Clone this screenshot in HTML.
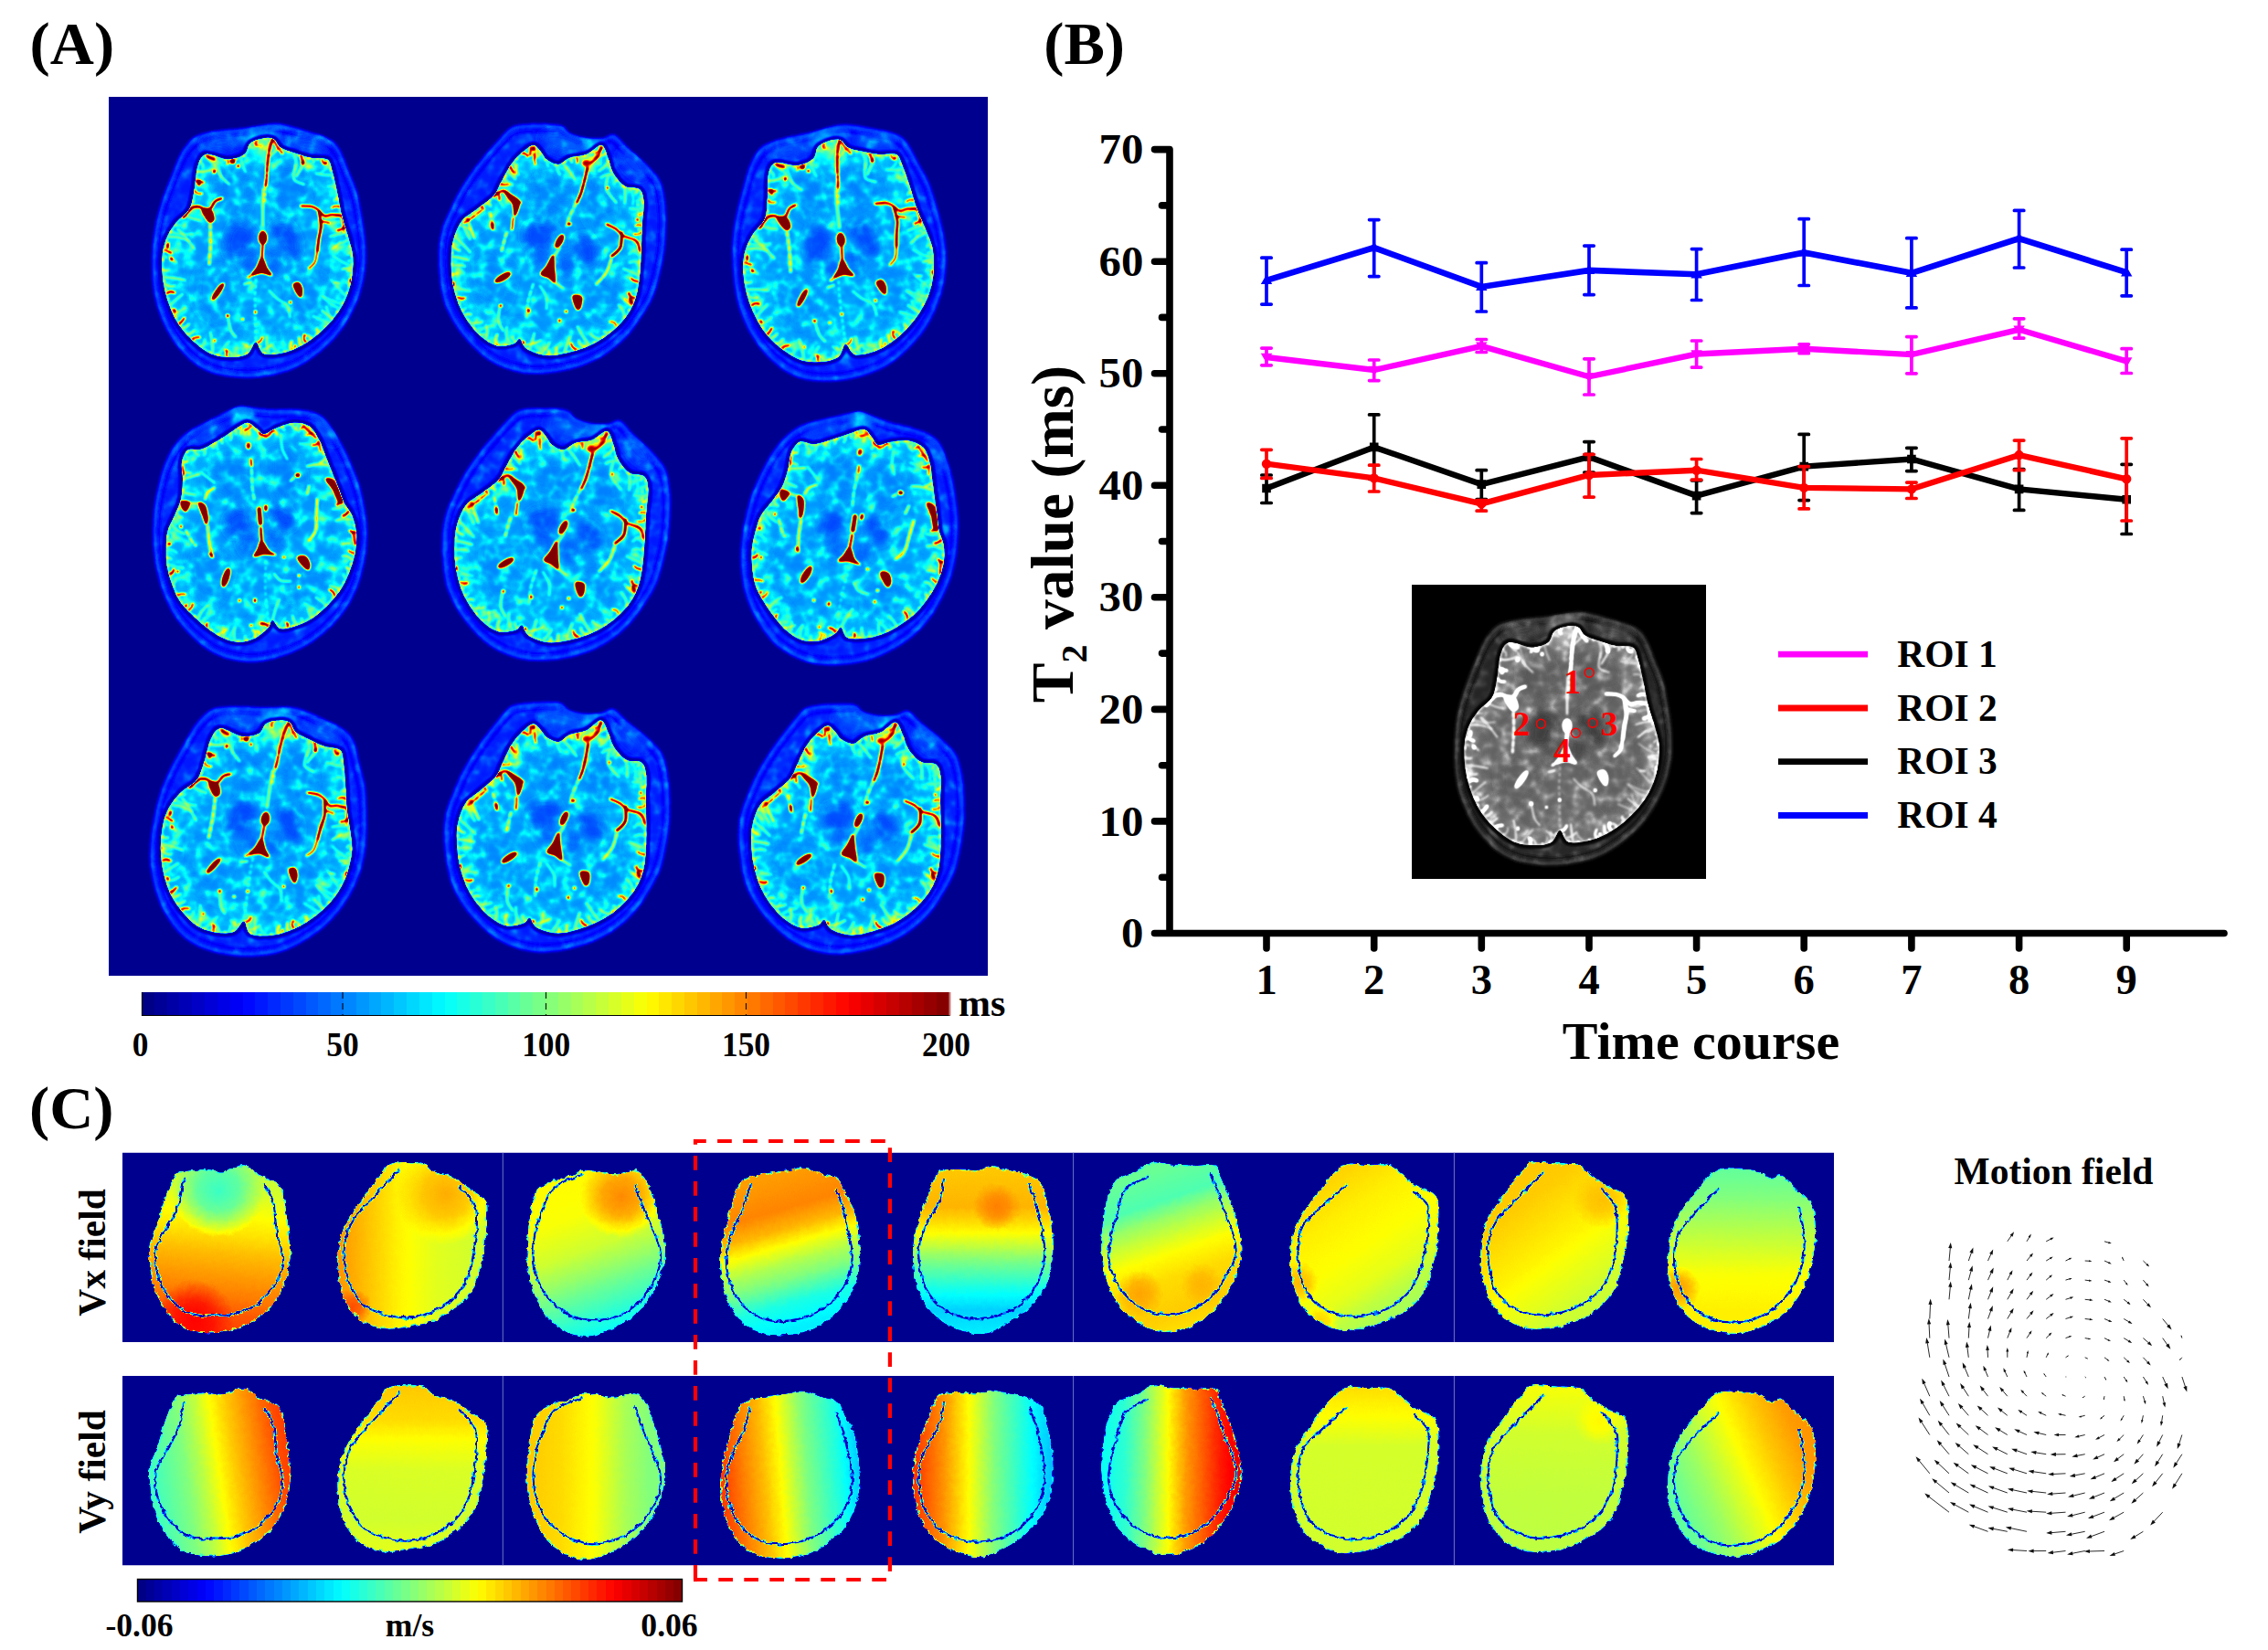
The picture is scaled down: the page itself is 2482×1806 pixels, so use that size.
<!DOCTYPE html>
<html><head><meta charset="utf-8"><title>Figure</title>
<style>
html,body{margin:0;padding:0;background:#fff;}
body{width:2482px;height:1806px;overflow:hidden;}
svg{display:block;font-family:'Liberation Serif', serif;font-weight:bold;}
</style></head><body>

<svg width="2482" height="1806" viewBox="0 0 2482 1806">
<defs><linearGradient id="jetA" x1="0" x2="1" y1="0" y2="0"><stop offset="0%" stop-color="rgb(0,0,143)"/><stop offset="12.5%" stop-color="rgb(0,0,255)"/><stop offset="37.5%" stop-color="rgb(0,255,255)"/><stop offset="62.5%" stop-color="rgb(255,255,0)"/><stop offset="87.5%" stop-color="rgb(255,0,0)"/><stop offset="100%" stop-color="rgb(128,0,0)"/></linearGradient><filter id="fA" filterUnits="userSpaceOnUse" x="119" y="106" width="962" height="961.5" color-interpolation-filters="sRGB"><feTurbulence type="fractalNoise" baseFrequency="0.075 0.075" numOctaves="2" seed="7" result="n"/><feColorMatrix in="n" type="matrix" values="1 0 0 0 0 1 0 0 0 0 1 0 0 0 0 0 0 0 0 1" result="ng"/><feComponentTransfer in="ng" result="N"><feFuncR type="table" tableValues="0 0 0 0.01 0.04 0.10 0.21 0.38 0.60 0.84 1"/><feFuncG type="table" tableValues="0 0 0 0.01 0.04 0.10 0.21 0.38 0.60 0.84 1"/><feFuncB type="table" tableValues="0 0 0 0.01 0.04 0.10 0.21 0.38 0.60 0.84 1"/></feComponentTransfer><feColorMatrix in="SourceGraphic" type="matrix" values="0 0 1 0 0 0 0 1 0 0 0 0 1 0 0 0 0 0 0 1" result="Bm"/><feComposite in="N" in2="Bm" operator="arithmetic" k1="1.0" k2="0" k3="0" k4="0" result="Q"/><feColorMatrix in="SourceGraphic" type="matrix" values="1 1 0 0 0 1 1 0 0 0 1 1 0 0 0 0 0 0 0 1" result="RG"/><feComposite in="RG" in2="Q" operator="arithmetic" k1="0" k2="1" k3="1" k4="0" result="v"/><feComponentTransfer in="v"><feFuncR type="table" tableValues="0 0 0 0 .5 1 1 1 .5"/><feFuncG type="table" tableValues="0 0 .5 1 1 1 .5 0 0"/><feFuncB type="table" tableValues=".56 1 1 1 .5 0 0 0 0"/></feComponentTransfer></filter><filter id="fI" filterUnits="userSpaceOnUse" x="1545.2" y="640" width="321.6" height="321.5" color-interpolation-filters="sRGB"><feTurbulence type="fractalNoise" baseFrequency="0.075 0.075" numOctaves="2" seed="11" result="n"/><feColorMatrix in="n" type="matrix" values="1 0 0 0 0 1 0 0 0 0 1 0 0 0 0 0 0 0 0 1" result="ng"/><feComponentTransfer in="ng" result="N"><feFuncR type="table" tableValues="0 0 0 0.01 0.04 0.10 0.21 0.38 0.60 0.84 1"/><feFuncG type="table" tableValues="0 0 0 0.01 0.04 0.10 0.21 0.38 0.60 0.84 1"/><feFuncB type="table" tableValues="0 0 0 0.01 0.04 0.10 0.21 0.38 0.60 0.84 1"/></feComponentTransfer><feColorMatrix in="SourceGraphic" type="matrix" values="0 0 1 0 0 0 0 1 0 0 0 0 1 0 0 0 0 0 0 1" result="Bm"/><feComposite in="N" in2="Bm" operator="arithmetic" k1="1.0" k2="0" k3="0" k4="0" result="Q"/><feColorMatrix in="SourceGraphic" type="matrix" values="1 1 0 0 0 1 1 0 0 0 1 1 0 0 0 0 0 0 0 1" result="RG"/><feComposite in="RG" in2="Q" operator="arithmetic" k1="0" k2="1" k3="1" k4="0" result="v"/><feComponentTransfer in="v"><feFuncR type="table" tableValues="0 .10 .35 .58 .86 1 1 1 1"/><feFuncG type="table" tableValues="0 .10 .35 .58 .86 1 1 1 1"/><feFuncB type="table" tableValues="0 .10 .35 .58 .86 1 1 1 1"/></feComponentTransfer></filter><filter id="fC" filterUnits="userSpaceOnUse" x="110" y="1240" width="1920" height="500" color-interpolation-filters="sRGB"><feTurbulence type="fractalNoise" baseFrequency="0.16" numOctaves="2" seed="5" result="t"/><feDisplacementMap in="SourceGraphic" in2="t" scale="5" xChannelSelector="R" yChannelSelector="G" result="d"/><feGaussianBlur in="d" stdDeviation="0.55" result="db"/><feComponentTransfer in="db"><feFuncR type="table" tableValues="0 0 0 0 .5 1 1 1 .5"/><feFuncG type="table" tableValues="0 0 .5 1 1 1 .5 0 0"/><feFuncB type="table" tableValues=".56 1 1 1 .5 0 0 0 0"/></feComponentTransfer></filter><filter id="b1" x="-10%" y="-10%" width="120%" height="120%"><feGaussianBlur stdDeviation="0.9"/></filter><filter id="b2" x="-10%" y="-10%" width="120%" height="120%"><feGaussianBlur stdDeviation="1.8"/></filter><filter id="b3" x="-20%" y="-20%" width="140%" height="140%"><feGaussianBlur stdDeviation="4"/></filter><filter id="b6" x="-30%" y="-30%" width="160%" height="160%"><feGaussianBlur stdDeviation="7"/></filter><path id="brainO" d="M15.1 -139.1C7.2 -138.6 -5.2 -135.9 -15.8 -134.5C-26.4 -133.2 -39.5 -132.6 -48.5 -130.9C-57.6 -129.2 -64.3 -128.5 -70.4 -124.5C-76.4 -120.6 -80.7 -114.4 -84.9 -107.3C-89.2 -100.2 -92.2 -90.9 -95.8 -81.8C-99.5 -72.7 -103.7 -62.4 -106.7 -52.7C-109.8 -43 -112.3 -33.9 -114 -23.6C-115.7 -13.3 -116.4 -1.2 -116.7 9.1C-117 19.4 -116.9 29.1 -115.8 38.2C-114.8 47.3 -112.8 55.8 -110.4 63.6C-107.9 71.5 -104.9 78.5 -101.3 85.5C-97.6 92.4 -93.7 99.1 -88.5 105.5C-83.4 111.8 -77 118.8 -70.4 123.6C-63.7 128.5 -57.6 132 -48.5 134.5C-39.5 137.1 -26.1 138.8 -15.8 139.1C-5.5 139.4 4.2 138 13.3 136.4C22.4 134.7 30.5 132.7 38.7 129.1C46.9 125.5 54.8 120.3 62.4 114.5C69.9 108.8 77.8 101.8 84.2 94.5C90.5 87.3 96 79.1 100.5 70.9C105.1 62.7 108.7 54.2 111.5 45.5C114.2 36.7 116 27.3 116.9 18.2C117.8 9.1 117.5 0 116.9 -9.1C116.3 -18.2 114.8 -27.3 113.3 -36.4C111.8 -45.5 110.2 -55.2 107.8 -63.6C105.4 -72.1 102.1 -79.1 98.7 -87.3C95.4 -95.5 91.8 -106.7 87.8 -112.7C83.9 -118.8 80.8 -120.6 75.1 -123.6C69.3 -126.7 60.5 -128.6 53.3 -130.9C46 -133.2 37.8 -135.9 31.5 -137.3C25.1 -138.6 23 -139.5 15.1 -139.1Z"/><path id="brainI" d="M7.8 -123.6C3.6 -123 -4.6 -121.2 -8.5 -118.2C-12.5 -115.2 -11.6 -108.5 -15.8 -105.5C-20.1 -102.4 -27 -100 -34 -100C-41 -100 -52.2 -106.7 -57.6 -105.5C-63.1 -104.2 -64.6 -99.1 -66.7 -92.7C-68.8 -86.4 -68.8 -75.2 -70.4 -67.3C-71.9 -59.4 -72.5 -51.5 -75.8 -45.5C-79.2 -39.4 -86.1 -36.4 -90.4 -30.9C-94.6 -25.5 -98.7 -19.4 -101.3 -12.7C-103.8 -6.1 -105.4 0.9 -105.8 9.1C-106.3 17.3 -105.4 27.9 -104 36.4C-102.6 44.8 -100.5 52.4 -97.6 60C-94.8 67.6 -91.3 75.2 -86.7 81.8C-82.2 88.5 -76.1 94.8 -70.4 100C-64.6 105.2 -58.8 110 -52.2 112.7C-45.5 115.5 -37 116.4 -30.4 116.4C-23.7 116.4 -16.7 115.5 -12.2 112.7C-7.6 110 -6.1 100 -3.1 100C-0.1 100 0.5 110.9 6 112.7C11.5 114.5 21.8 113 29.6 110.9C37.5 108.8 45.7 104.8 53.3 100C60.8 95.2 68.7 88.5 75.1 81.8C81.5 75.2 87.2 67.6 91.5 60C95.7 52.4 98.6 44.8 100.5 36.4C102.5 27.9 103.6 17.3 103.3 9.1C103 0.9 100.7 -5.2 98.7 -12.7C96.8 -20.3 93.6 -27.9 91.5 -36.4C89.3 -44.8 87.8 -55.2 86 -63.6C84.2 -72.1 82.4 -81.2 80.5 -87.3C78.7 -93.3 79 -97.6 75.1 -100C71.2 -102.4 63 -100.6 56.9 -101.8C50.8 -103 44.2 -105.5 38.7 -107.3C33.3 -109.1 27.8 -110.3 24.2 -112.7C20.5 -115.2 19.6 -120 16.9 -121.8C14.2 -123.6 12.1 -124.2 7.8 -123.6Z"/><clipPath id="braincI"><use href="#brainI"/></clipPath><clipPath id="braincO"><use href="#brainO"/></clipPath><g id="brain"><g filter="url(#b2)"><use href="#brainO" fill="#280029"/><use href="#brainO" fill="none" stroke="#1b000f" stroke-width="4" transform="scale(0.94)"/><use href="#brainO" fill="none" stroke="#37001a" stroke-width="2.2" transform="scale(0.985)"/></g><g filter="url(#b3)" clip-path="url(#braincO)"><ellipse cx="2.4" cy="-123.6" rx="20" ry="10" transform="rotate(0 2.4 -123.6)" fill="#45004c"/><ellipse cx="-41.3" cy="-118.2" rx="21.8" ry="8.2" transform="rotate(-8 -41.3 -118.2)" fill="#300033"/><ellipse cx="53.3" cy="-116.4" rx="21.8" ry="8.2" transform="rotate(10 53.3 -116.4)" fill="#300033"/></g><use href="#brainI" fill="none" stroke="#060005" stroke-width="7" filter="url(#b1)"/><g filter="url(#b1)"><use href="#brainI" fill="#44004c"/></g><g clip-path="url(#braincI)"><use href="#brainI" fill="none" stroke="#4b0061" stroke-width="34" filter="url(#b3)"/><g filter="url(#b3)"><path d="M-26.7 -30.9C-22.8 -32.4 -14.3 -30 -10.4 -27.3C-6.4 -24.5 -2.8 -18.2 -3.1 -14.5C-3.4 -10.9 -9.2 -8.8 -12.2 -5.5C-15.2 -2.1 -18.2 3 -21.3 5.5C-24.3 7.9 -27.8 10.6 -30.4 9.1C-32.9 7.6 -36.1 0.9 -36.7 -3.6C-37.3 -8.2 -35.7 -13.6 -34 -18.2C-32.3 -22.7 -30.7 -29.4 -26.7 -30.9Z" fill="#320014" /><path d="M16.9 -29.1C19.6 -30.9 27.4 -32.7 31.5 -30.9C35.5 -29.1 39.2 -22.7 41.5 -18.2C43.7 -13.6 45.4 -8.2 45.1 -3.6C44.8 0.9 42.2 8.2 39.6 9.1C37.1 10 32.8 5.2 29.6 1.8C26.5 -1.5 23 -7.3 20.5 -10.9C18.1 -14.5 15.7 -17 15.1 -20C14.5 -23 14.2 -27.3 16.9 -29.1Z" fill="#320014" /><path d="M-17.6 1.8C-15.2 -0.9 -6.1 -2.1 -3.1 0C-0.1 2.1 1.5 10.3 0.5 14.5C-0.4 18.8 -5.5 25.2 -8.5 25.5C-11.6 25.8 -16.1 20.3 -17.6 16.4C-19.2 12.4 -20.1 4.5 -17.6 1.8Z" fill="#39001f" /><path d="M9.6 0C12.2 -2.1 21.5 -0.9 24.2 1.8C26.9 4.5 27.2 12.4 26 16.4C24.8 20.3 19.8 25.8 16.9 25.5C14 25.2 9.9 18.8 8.7 14.5C7.5 10.3 7.1 2.1 9.6 0Z" fill="#39001f" /><path d="M-41.3 -85.5C-37 -89.1 -24.9 -92.1 -19.5 -89.1C-14 -86.1 -9.2 -75.2 -8.5 -67.3C-7.9 -59.4 -11.6 -45.5 -15.8 -41.8C-20.1 -38.2 -29.2 -41.2 -34 -45.5C-38.8 -49.7 -43.7 -60.6 -44.9 -67.3C-46.1 -73.9 -45.5 -81.8 -41.3 -85.5Z" fill="#400038" /><path d="M18.7 -92.7C22.7 -96.7 34.8 -96.4 40.5 -92.7C46.3 -89.1 52.4 -78.8 53.3 -70.9C54.2 -63 50.5 -49.7 46 -45.5C41.5 -41.2 30.8 -41.5 26 -45.5C21.2 -49.4 18.1 -61.2 16.9 -69.1C15.7 -77 14.8 -88.8 18.7 -92.7Z" fill="#400038" /><path d="M-66.7 27.3C-62.8 20 -47.9 18.2 -41.3 20C-34.6 21.8 -26.7 29.4 -26.7 38.2C-26.7 47 -34.9 68.5 -41.3 72.7C-47.6 77 -60.7 71.2 -64.9 63.6C-69.2 56.1 -70.7 34.5 -66.7 27.3Z" fill="#420047" /><path d="M38.7 20C44.2 15.5 61.8 21.5 67.8 27.3C73.9 33 77.5 46.1 75.1 54.5C72.7 63 59.9 78.2 53.3 78.2C46.6 78.2 37.5 64.2 35.1 54.5C32.7 44.8 33.3 24.5 38.7 20Z" fill="#420047" /></g><g filter="url(#b3)"><ellipse cx="2.4" cy="-112.7" rx="12.7" ry="10.9" transform="rotate(0 2.4 -112.7)" fill="#6b0099"/></g><use href="#brainI" fill="none" stroke="#cc1a00" stroke-width="3.2" stroke-dasharray="2.5 6 4 8 2 10" filter="url(#b1)"/><use href="#brainI" fill="none" stroke="#7d004c" stroke-width="2.4" filter="url(#b1)"/><g filter="url(#b1)"><path d="M-47 -102.1Q-43.8 -91.5 -40.8 -80M87.9 63.1Q77.6 58.5 69.2 49.7M91.8 -31.8Q86.6 -31.9 81 -30M76.2 -95Q73 -87.5 66.9 -84.6" stroke="#78001a" stroke-width="1.7" fill="none" stroke-linecap="round"/><path d="M76 79Q68.4 75.3 59.6 71.6" stroke="#78001a" stroke-width="2.0" fill="none" stroke-linecap="round"/><path d="M91.1 58.1Q80.2 55.7 70 49.1M29.3 -109.8Q23.8 -109.4 25.2 -105.5" stroke="#80001a" stroke-width="1.4" fill="none" stroke-linecap="round"/><path d="M-90.2 -29.3Q-90.2 -26.5 -86.3 -28.2M-95.6 -20.4Q-86.3 -16.7 -72.7 -18.4M-18.1 112.9Q-15.8 110.1 -17.2 107M80.1 73.6Q75.5 70.2 74.1 61M83.6 -69.6Q79.8 -71.4 75.7 -70.4" stroke="#80001a" stroke-width="1.7" fill="none" stroke-linecap="round"/><path d="M102.1 10.7Q100.6 10.9 98.2 11.2M80.6 -82.9Q72.4 -82.3 62.7 -84.6M38.8 -106.3Q42.7 -96.6 40.1 -88.3" stroke="#80001a" stroke-width="2.0" fill="none" stroke-linecap="round"/><path d="M-20.1 -103.1Q-18.4 -94.8 -14.4 -86M21.2 110.7Q14.5 106.8 15.1 101.5M94.8 48.9Q87.3 40.9 79.3 31.9M101.6 16.2Q91.6 14 81.4 5.3" stroke="#85001a" stroke-width="1.4" fill="none" stroke-linecap="round"/><path d="M8.4 -122.8Q9 -116.4 16.4 -111.3M-62.2 104.5Q-59.1 102.5 -59 97.2M-43.8 113.3Q-38.4 106.7 -32.4 99.3" stroke="#85001a" stroke-width="1.7" fill="none" stroke-linecap="round"/><path d="M-96.9 59.3Q-90.7 53.3 -83.3 47.5M97.9 -12.2Q95 -10 90.9 -8.3" stroke="#8c001a" stroke-width="1.7" fill="none" stroke-linecap="round"/><path d="M-10 -113.7Q-7.5 -113.3 -4.2 -112.2M-80.5 -39.5Q-74.4 -34.7 -63.6 -33.3" stroke="#8c001a" stroke-width="2.0" fill="none" stroke-linecap="round"/><path d="M-104.5 7.6Q-102.9 4.2 -100.5 7.7M-11.8 110.6Q-13 104.4 -17.3 101.1M99.7 35.9Q98.2 37 96.2 34" stroke="#94001a" stroke-width="1.4" fill="none" stroke-linecap="round"/><path d="M4.1 108.4Q9.8 107.8 13.7 102.9M51.9 -102.3Q48.3 -92.1 41.2 -81.9" stroke="#94001a" stroke-width="2.0" fill="none" stroke-linecap="round"/><path d="M-63.6 -95.6Q-60.4 -96.4 -61 -90.2M-92.6 67.8Q-85.7 67 -80 61.8M58.5 -100.7Q62.4 -98.3 59 -96.7" stroke="#99001a" stroke-width="1.4" fill="none" stroke-linecap="round"/><path d="M-103.5 28.9Q-92.7 29.4 -80.7 32.2M100.8 1.8Q99.3 1.5 97.5 4M86.6 -55.8Q84.4 -59 82.7 -54.7" stroke="#99001a" stroke-width="1.7" fill="none" stroke-linecap="round"/><path d="M-73.4 -51.3Q-71.9 -47.1 -67.9 -48.7M-29.4 115.3Q-28.9 111.9 -34.2 108.8M-8.4 105.8Q-11.9 106.3 -13.2 102.1" stroke="#99001a" stroke-width="2.0" fill="none" stroke-linecap="round"/><path d="M-98.7 -15.1Q-86.4 -16.3 -76.2 -10.6M-50.7 112Q-49.6 101.4 -52.9 89.1M95.5 -19.9Q87.1 -18.4 78 -15.6M14.8 -121.3Q11.7 -116.1 6 -110.5" stroke="#a3001a" stroke-width="1.4" fill="none" stroke-linecap="round"/><path d="M-104 21.2Q-101.5 22 -98 21M-103 36.5Q-97.3 40.3 -92.2 38.4M10.6 111.4Q9 103 8.5 93.5M89.6 -40.6Q82.2 -34.5 72.3 -35.6M22.4 -113.4Q16.7 -106.9 8.9 -101.4" stroke="#a3001a" stroke-width="1.7" fill="none" stroke-linecap="round"/><path d="M-57 -104.7Q-55.1 -99 -49.8 -96.4M-66.6 -86.9Q-58.6 -85.5 -48.9 -89.9" stroke="#a3001a" stroke-width="2.0" fill="none" stroke-linecap="round"/><path d="M-76.7 91.5Q-73.4 90 -70.2 86.9" stroke="#b2001a" stroke-width="1.4" fill="none" stroke-linecap="round"/><path d="M-82.8 84.7Q-79 83.8 -76.2 80.3M100.9 22.6Q99.6 20.2 96.9 22.1" stroke="#b2001a" stroke-width="1.7" fill="none" stroke-linecap="round"/><path d="M66 88.1Q62.8 88.8 63.7 84.8" stroke="#b2001a" stroke-width="2.0" fill="none" stroke-linecap="round"/><path d="M57.2 95.6Q56.4 92.3 49.7 92.7" stroke="#d1001a" stroke-width="1.4" fill="none" stroke-linecap="round"/><path d="M44.9 102.9Q45 99.2 44.4 94.9" stroke="#d1001a" stroke-width="1.7" fill="none" stroke-linecap="round"/><path d="M35.3 107.3Q33.6 104.8 36.1 99.4" stroke="#d1001a" stroke-width="2.0" fill="none" stroke-linecap="round"/><path d="M-2.4 -119.2Q-5.2 -116.7 -1.7 -115.2M-34.1 -99Q-31.6 -96.9 -34.5 -95M-69.8 -65.4Q-67.2 -61.5 -62.3 -62.7M-1.5 100.6Q2.4 100.1 4.1 94.8M88 -48.3Q84.1 -50.2 80.1 -47.1M69.4 -99.7Q68.7 -98.4 71 -96" stroke="#ff4c1a" stroke-width="1.4" fill="none" stroke-linecap="round"/><path d="M-68.1 -76.1Q-64.7 -75.3 -60.2 -74.9M-102.7 -1.3Q-99.7 0.7 -95.6 2.4M-72.5 96.4Q-70.1 94.4 -64.7 94.6M-35.2 114.6Q-34.3 112.3 -35.9 108.6M51.7 99.7Q48.4 98 50 91.8" stroke="#ff4c1a" stroke-width="1.7" fill="none" stroke-linecap="round"/><path d="M-100.2 46.6Q-97.6 43.2 -92.3 45.8M-86.7 79.7Q-83.8 77.9 -81.4 73.7M93.7 -25.6Q90.8 -23.2 86.5 -22.2M46.5 -104Q47.1 -100.7 48.3 -96.2" stroke="#ff4c1a" stroke-width="2.0" fill="none" stroke-linecap="round"/></g><g filter="url(#b1)"><path d="M5.1 -67.3C5 -63.6 4.6 -52.1 4.5 -45.5C4.5 -38.8 4.5 -30.3 4.5 -27.3" stroke="#9e001a" stroke-width="2.2" fill="none" stroke-linecap="round" stroke-linejoin="round" /><path d="M-53.1 -29.1C-53 -25.8 -52.6 -16.4 -52.7 -9.1C-52.9 -1.8 -53.8 10.6 -54 14.5" stroke="#bd001a" stroke-width="2.4" fill="none" stroke-linecap="round" stroke-linejoin="round" stroke-dasharray="5 3"/><path d="M-88.5 -23.6C-87.3 -22.4 -84.3 -20 -81.3 -16.4C-78.2 -12.7 -72.2 -4.2 -70.4 -1.8" stroke="#99001a" stroke-width="1.6" fill="none" stroke-linecap="round" stroke-linejoin="round" /><path d="M-97.6 5.5C-96.4 6.7 -91.6 11.5 -90.4 12.7" stroke="#a6001a" stroke-width="1.6" fill="none" stroke-linecap="round" stroke-linejoin="round" /><path d="M-48.5 -94.5C-47.3 -92.4 -44 -85.5 -41.3 -81.8C-38.5 -78.2 -33.7 -74.2 -32.2 -72.7" stroke="#99001a" stroke-width="1.6" fill="none" stroke-linecap="round" stroke-linejoin="round" /><path d="M40.5 -94.5C40.2 -91.8 37.2 -81.8 38.7 -78.2C40.2 -74.5 47.8 -73.6 49.6 -72.7" stroke="#99001a" stroke-width="1.6" fill="none" stroke-linecap="round" stroke-linejoin="round" /><path d="M80.5 -1.8C82.1 -3 88.1 -7.9 89.6 -9.1" stroke="#a6001a" stroke-width="1.8" fill="none" stroke-linecap="round" stroke-linejoin="round" /><path d="M91.5 20C93.3 19.7 100.5 18.5 102.4 18.2" stroke="#a6001a" stroke-width="1.6" fill="none" stroke-linecap="round" stroke-linejoin="round" /><path d="M69.6 65.5C71.5 67 78.7 73 80.5 74.5" stroke="#99001a" stroke-width="1.6" fill="none" stroke-linecap="round" stroke-linejoin="round" /><path d="M-34 70.9C-33.4 73.6 -31.9 83.3 -30.4 87.3C-28.8 91.2 -25.8 93.3 -24.9 94.5" stroke="#99001a" stroke-width="1.6" fill="none" stroke-linecap="round" stroke-linejoin="round" /><path d="M-3.1 30.9C-3.2 34.8 -4 43 -4 54.5C-4 66.1 -3.2 92.4 -3.1 100" stroke="#80001a" stroke-width="1.5" fill="none" stroke-linecap="round" stroke-linejoin="round" stroke-dasharray="3 4"/><path d="M11.5 43.6C13 45.2 17.2 50 20.5 52.7C23.9 55.5 29.2 56.7 31.5 60C33.7 63.3 33.7 70.6 34.2 72.7" stroke="#8c001a" stroke-width="1.5" fill="none" stroke-linecap="round" stroke-linejoin="round" /><path d="M-15.8 36.4C-14.6 36.1 -9.8 34.8 -8.5 34.5" stroke="#b2001a" stroke-width="1.5" fill="none" stroke-linecap="round" stroke-linejoin="round" /><path d="M82.4 34.5C83.3 34.7 86.9 35.3 87.8 35.5" stroke="#b2001a" stroke-width="1.5" fill="none" stroke-linecap="round" stroke-linejoin="round" /><path d="M7.1 -69.1C7 -66.4 6.5 -55.5 6.4 -52.7" stroke="#cc001a" stroke-width="1.6" fill="none" stroke-linecap="round" stroke-linejoin="round" stroke-dasharray="3 3"/></g><g filter="url(#b1)"><path d="M15.5 -122.2C14.8 -120.3 12.8 -115.5 11.8 -110.9C10.8 -106.3 10.2 -100 9.6 -94.5C9.1 -89.1 8.9 -82.2 8.5 -78.2C8.2 -74.2 7.6 -71.8 7.5 -70.5" stroke="#ff5900" stroke-width="2.2" fill="none" stroke-linecap="round" stroke-linejoin="round" stroke-dasharray="8 1.6 5 2.4 3 2"/><path d="M16.9 -120C17.7 -118.6 19.9 -114 21.5 -111.8C23 -109.6 25.2 -107.7 26 -106.9" stroke="#ff5900" stroke-width="1.5" fill="none" stroke-linecap="round" stroke-linejoin="round" /><ellipse cx="4.5" cy="-14.2" rx="4.4" ry="7.3" transform="rotate(0 4.5 -14.2)" fill="#ff5900"/><path d="M4.5 -7.3C4.4 -4.5 3.6 6.4 3.5 9.1" stroke="#ff5900" stroke-width="2" fill="none" stroke-linecap="round" stroke-linejoin="round" /><path d="M3.5 7.3C5.3 7.3 7.1 14.9 8.9 18.2C10.7 21.5 15.3 25.8 14.4 26.9C13.4 28 7 24.5 3.3 24.5C-0.5 24.5 -7.2 28 -8.2 26.9C-9.1 25.8 -4.3 21.5 -2.4 18.2C-0.4 14.9 1.6 7.3 3.5 7.3Z" fill="#ff5900" /><path d="M-8.2 26.9C-8.7 27.3 -10.9 28.7 -11.5 29.1" stroke="#ff5900" stroke-width="1.3" fill="none" stroke-linecap="round" stroke-linejoin="round" /><path d="M-82.2 -36.7C-80.7 -38.4 -76 -45 -73.1 -46.9C-70.2 -48.8 -67.5 -48.6 -64.9 -48.2C-62.3 -47.8 -59.8 -44.6 -57.6 -44.4C-55.5 -44.2 -53.8 -45.3 -52.2 -46.9C-50.5 -48.5 -49.6 -52.5 -47.6 -54.2C-45.7 -55.9 -41.6 -56.8 -40.4 -57.3" stroke="#ff5900" stroke-width="2.2" fill="none" stroke-linecap="round" stroke-linejoin="round" /><path d="M-62.4 -46.5C-61.2 -47.7 -54.5 -47.1 -52.2 -45.1C-49.9 -43.1 -48.3 -36.9 -48.5 -34.5C-48.8 -32.2 -51.8 -30.3 -53.6 -30.9C-55.5 -31.5 -58 -35.6 -59.5 -38.2C-60.9 -40.8 -63.6 -45.4 -62.4 -46.5Z" fill="#ff5900" /><path d="M46.4 -49.1C48.1 -49 53.9 -49.3 56.9 -48.7C59.9 -48.1 61.7 -47.2 64.2 -45.5C66.7 -43.7 69.1 -39.2 71.8 -38.2C74.5 -37.2 77.4 -39.6 80.5 -39.6C83.7 -39.6 88.9 -38.4 90.5 -38.2" stroke="#ff5900" stroke-width="2" fill="none" stroke-linecap="round" stroke-linejoin="round" /><path d="M66 -43.3C66.4 -40.6 68.2 -32.1 68.2 -27.3C68.2 -22.5 66.7 -19.1 66 -14.5C65.3 -10 64.5 -2.4 64.2 0" stroke="#ff5900" stroke-width="2.5" fill="none" stroke-linecap="round" stroke-linejoin="round" /><path d="M64.2 0C63.7 2.1 63 9.5 61.5 12.7C59.9 15.9 56.2 18 55.1 19.1" stroke="#ff5900" stroke-width="1.5" fill="none" stroke-linecap="round" stroke-linejoin="round" /><path d="M68.2 -32.4C69.7 -32.1 75.8 -30.8 77.3 -30.5" stroke="#ff5900" stroke-width="1.6" fill="none" stroke-linecap="round" stroke-linejoin="round" /><path d="M91.8 -36.4C92.1 -33.6 93 -22.7 93.3 -20" stroke="#ff5900" stroke-width="1.1" fill="none" stroke-linecap="round" stroke-linejoin="round" /><ellipse cx="-44.5" cy="44.5" rx="10.9" ry="2.7" transform="rotate(-55 -44.5 44.5)" fill="#ff5900"/><path d="M37.6 37.1C37.9 34.9 42.5 34.1 44.2 34.9C45.9 35.7 47.4 39.2 47.8 41.8C48.2 44.4 47.6 49.5 46.7 50.5C45.8 51.5 43.9 50.1 42.4 47.8C40.8 45.6 37.3 39.2 37.6 37.1Z" fill="#ff5900" /><path d="M-56.2 -103.3C-54.9 -102.7 -49.8 -100.5 -48.5 -100" stroke="#ff5900" stroke-width="2.2" fill="none" stroke-linecap="round" stroke-linejoin="round" /><ellipse cx="-28.5" cy="-97.8" rx="2.7" ry="2.4" transform="rotate(0 -28.5 -97.8)" fill="#ff5900"/><ellipse cx="-48.5" cy="-86.9" rx="1.5" ry="2.2" transform="rotate(20 -48.5 -86.9)" fill="#ff5900"/><ellipse cx="-65.3" cy="-74.5" rx="1.5" ry="3.3" transform="rotate(0 -65.3 -74.5)" fill="#ff5900"/><ellipse cx="-22.4" cy="-92.7" rx="1.3" ry="1.8" transform="rotate(0 -22.4 -92.7)" fill="#ff5900"/><ellipse cx="72.9" cy="-96" rx="2" ry="1.5" transform="rotate(0 72.9 -96)" fill="#ff5900"/><ellipse cx="48.2" cy="-96" rx="1.5" ry="1.3" transform="rotate(0 48.2 -96)" fill="#ff5900"/><ellipse cx="-99.5" cy="-5.5" rx="1.3" ry="3.6" transform="rotate(8 -99.5 -5.5)" fill="#ff5900"/><ellipse cx="-95.5" cy="9.1" rx="1.3" ry="2" transform="rotate(-30 -95.5 9.1)" fill="#ff5900"/><ellipse cx="-34" cy="70.9" rx="1.5" ry="1.5" transform="rotate(0 -34 70.9)" fill="#ff5900"/><ellipse cx="-3.5" cy="66.9" rx="1.1" ry="1.5" transform="rotate(0 -3.5 66.9)" fill="#ff5900"/><ellipse cx="-17.6" cy="74.9" rx="1.1" ry="1.1" transform="rotate(0 -17.6 74.9)" fill="#ff5900"/><ellipse cx="34.7" cy="56.4" rx="1.3" ry="1.3" transform="rotate(0 34.7 56.4)" fill="#ff5900"/><ellipse cx="-48.2" cy="98.2" rx="0.9" ry="1.8" transform="rotate(0 -48.2 98.2)" fill="#ff5900"/><ellipse cx="-92.2" cy="65.5" rx="1.3" ry="2.2" transform="rotate(-20 -92.2 65.5)" fill="#ff5900"/><ellipse cx="100.5" cy="32.7" rx="1.1" ry="2.9" transform="rotate(0 100.5 32.7)" fill="#ff5900"/><ellipse cx="39.8" cy="104.4" rx="1.3" ry="1.1" transform="rotate(0 39.8 104.4)" fill="#ff5900"/></g></g></g><path id="brainBO" d="M-35.5 -135.9C-30 -136.7 -21.2 -137 -13.6 -136.8C-6.1 -136.7 4.5 -136.7 10 -135C15.5 -133.3 14.5 -129.1 19.1 -126.8C23.6 -124.5 31.2 -122.3 37.3 -121.4C43.3 -120.5 50.3 -120.8 55.5 -121.4C60.6 -122 63.6 -126.8 68.2 -125C72.7 -123.2 77.9 -115 82.7 -110.5C87.6 -105.9 92.7 -102 97.3 -97.7C101.8 -93.5 106.4 -89.2 110 -85C113.6 -80.8 116.8 -78 119.1 -72.3C121.4 -66.5 122.7 -58.3 123.6 -50.5C124.5 -42.6 124.7 -33.8 124.5 -25C124.4 -16.2 123.9 -6.8 122.7 2.3C121.5 11.4 119.4 21.1 117.3 29.5C115.2 38 113.3 45.6 110 53.2C106.7 60.8 102.1 67.7 97.3 75C92.4 82.3 87.3 90.2 80.9 96.8C74.5 103.5 67 109.8 59.1 115C51.2 120.2 42.7 124.4 33.6 127.7C24.5 131.1 14.2 133.5 4.5 135C-5.2 136.5 -15.5 137.4 -24.5 136.8C-33.6 136.2 -42.1 134.1 -50 131.4C-57.9 128.6 -64.8 125.3 -71.8 120.5C-78.8 115.6 -85.8 108.9 -91.8 102.3C-97.9 95.6 -103.6 88 -108.2 80.5C-112.7 72.9 -116.5 65.3 -119.1 56.8C-121.7 48.3 -122.7 38.6 -123.6 29.5C-124.5 20.5 -125 10.8 -124.5 2.3C-124.1 -6.2 -123 -13.8 -120.9 -21.4C-118.8 -28.9 -115.2 -35.9 -111.8 -43.2C-108.5 -50.5 -105.2 -57.7 -100.9 -65C-96.7 -72.3 -91.2 -80.2 -86.4 -86.8C-81.5 -93.5 -76.7 -99.2 -71.8 -105C-67 -110.8 -61.5 -116.8 -57.3 -121.4C-53 -125.9 -50 -129.8 -46.4 -132.3C-42.7 -134.7 -40.9 -135.2 -35.5 -135.9Z"/><path id="brainBI" d="M-20.9 -113.2C-17 -113.5 -14.2 -107.6 -11.8 -105C-9.4 -102.4 -9.4 -99.8 -6.4 -97.7C-3.3 -95.6 2.1 -92 6.4 -92.3C10.6 -92.6 13.9 -97.7 19.1 -99.5C24.2 -101.4 31.5 -100.9 37.3 -103.2C43 -105.5 49.7 -113.8 53.6 -113.2C57.6 -112.6 58.8 -104.5 60.9 -99.5C63 -94.5 63.3 -88.3 66.4 -83.2C69.4 -78 74.2 -71.7 79.1 -68.6C83.9 -65.6 92 -68 95.5 -65C98.9 -62 99.5 -57.1 100 -50.5C100.5 -43.8 98.6 -33.8 98.2 -25C97.7 -16.2 97.7 -6.8 97.3 2.3C96.8 11.4 96.4 21.4 95.5 29.5C94.5 37.7 93.9 44.4 91.8 51.4C89.7 58.3 87 65 82.7 71.4C78.5 77.7 72.7 84.1 66.4 89.5C60 95 52.4 100.2 44.5 104.1C36.7 108 27.6 111.1 19.1 113.2C10.6 115.3 1.5 117.4 -6.4 116.8C-14.2 116.2 -23.3 112.6 -28.2 109.5C-33 106.5 -33 99.5 -35.5 98.6C-37.9 97.7 -38.5 102.9 -42.7 104.1C-47 105.3 -55.2 107.1 -60.9 105.9C-66.7 104.7 -72.1 101.1 -77.3 96.8C-82.4 92.6 -87.6 86.5 -91.8 80.5C-96.1 74.4 -99.8 67.7 -102.7 60.5C-105.6 53.2 -107.7 45 -109.1 36.8C-110.5 28.6 -111.1 19.2 -110.9 11.4C-110.8 3.5 -110.2 -3.5 -108.2 -10.5C-106.2 -17.4 -103.3 -25 -99.1 -30.5C-94.8 -35.9 -88.5 -38.6 -82.7 -43.2C-77 -47.7 -68.8 -53.2 -64.5 -57.7C-60.3 -62.3 -60.3 -65 -57.3 -70.5C-54.2 -75.9 -50 -85 -46.4 -90.5C-42.7 -95.9 -39.7 -99.4 -35.5 -103.2C-31.2 -107 -24.8 -112.9 -20.9 -113.2Z"/><clipPath id="brainBcI"><use href="#brainBI"/></clipPath><clipPath id="brainBcO"><use href="#brainBO"/></clipPath><g id="brainB"><g filter="url(#b2)"><use href="#brainBO" fill="#280029"/><use href="#brainBO" fill="none" stroke="#1b000f" stroke-width="4" transform="scale(0.94)"/><use href="#brainBO" fill="none" stroke="#37001a" stroke-width="2.2" transform="scale(0.985)"/></g><g filter="url(#b3)" clip-path="url(#brainBcO)"><ellipse cx="11.8" cy="-115.9" rx="25.5" ry="10.9" transform="rotate(15 11.8 -115.9)" fill="#330033"/><ellipse cx="44.5" cy="-111.4" rx="10.9" ry="7.3" transform="rotate(0 44.5 -111.4)" fill="#4c004c"/><ellipse cx="88.2" cy="-92.3" rx="20" ry="9.1" transform="rotate(45 88.2 -92.3)" fill="#2f0033"/></g><use href="#brainBI" fill="none" stroke="#060005" stroke-width="7" filter="url(#b1)"/><g filter="url(#b1)"><use href="#brainBI" fill="#44004c"/></g><g clip-path="url(#brainBcI)"><use href="#brainBI" fill="none" stroke="#4b0061" stroke-width="34" filter="url(#b3)"/><g filter="url(#b3)"><path d="M-28.2 -25C-24.2 -28.6 -11.8 -29.2 -6.4 -28.6C-0.9 -28 3.6 -25 4.5 -21.4C5.5 -17.7 2.7 -10.5 -0.9 -6.8C-4.5 -3.2 -12.4 0.5 -17.3 0.5C-22.1 0.5 -28.2 -2.6 -30 -6.8C-31.8 -11.1 -32.1 -21.4 -28.2 -25Z" fill="#320014" /><path d="M24.5 -12.3C26.7 -15.3 35.2 -15.9 39.1 -14.1C43 -12.3 46.7 -5.9 48.2 -1.4C49.7 3.2 50.3 10.2 48.2 13.2C46.1 16.2 39.1 18.3 35.5 16.8C31.8 15.3 28.2 8.9 26.4 4.1C24.5 -0.8 22.4 -9.2 24.5 -12.3Z" fill="#320014" /><path d="M-20.9 2.3C-18.5 -0.5 -9.4 -2.9 -6.4 -1.4C-3.3 0.2 -1.8 7.4 -2.7 11.4C-3.6 15.3 -8.8 21.7 -11.8 22.3C-14.8 22.9 -19.4 18.3 -20.9 15C-22.4 11.7 -23.3 5 -20.9 2.3Z" fill="#39001f" /><path d="M10 4.1C13 3.2 22.4 7.7 24.5 11.4C26.7 15 24.8 22.9 22.7 25.9C20.6 28.9 14.5 31.1 11.8 29.5C9.1 28 6.7 21.1 6.4 16.8C6.1 12.6 7 5 10 4.1Z" fill="#39001f" /><path d="M-17.3 -75.9C-13 -78.9 -0.9 -82 4.5 -79.5C10 -77.1 15.5 -68 15.5 -61.4C15.5 -54.7 9.4 -42.6 4.5 -39.5C-0.3 -36.5 -9.4 -39.5 -13.6 -43.2C-17.9 -46.8 -20.3 -55.9 -20.9 -61.4C-21.5 -66.8 -21.5 -72.9 -17.3 -75.9Z" fill="#400038" /><path d="M37.3 -68.6C40.9 -72 50.9 -73.5 55.5 -70.5C60 -67.4 63.9 -57.4 64.5 -50.5C65.2 -43.5 63 -32.3 59.1 -28.6C55.2 -25 45.2 -25 40.9 -28.6C36.7 -32.3 34.2 -43.8 33.6 -50.5C33 -57.1 33.6 -65.3 37.3 -68.6Z" fill="#400038" /><path d="M-84.5 11.4C-80.9 3.2 -64.2 5.3 -57.3 7.7C-50.3 10.2 -43.3 16.8 -42.7 25.9C-42.1 35 -47.6 57.1 -53.6 62.3C-59.7 67.4 -73.9 65.3 -79.1 56.8C-84.2 48.3 -88.2 19.5 -84.5 11.4Z" fill="#420047" /><path d="M30 29.5C33.6 24.1 51.8 30.2 59.1 33.2C66.4 36.2 73.6 40.5 73.6 47.7C73.6 55 65.2 73.8 59.1 76.8C53 79.8 42.1 73.8 37.3 65.9C32.4 58 26.4 35 30 29.5Z" fill="#420047" /></g><g filter="url(#b3)"><ellipse cx="39.1" cy="-97.7" rx="10.9" ry="9.1" transform="rotate(0 39.1 -97.7)" fill="#730099"/></g><use href="#brainBI" fill="none" stroke="#cc1a00" stroke-width="3.2" stroke-dasharray="2.5 6 4 8 2 10" filter="url(#b1)"/><use href="#brainBI" fill="none" stroke="#7d004c" stroke-width="2.4" filter="url(#b1)"/><g filter="url(#b1)"><path d="M85.2 -66.3Q90.1 -57.1 87.9 -48.5" stroke="#78001a" stroke-width="1.4" fill="none" stroke-linecap="round"/><path d="M91.6 46.8Q89.6 44.1 85.7 47.6" stroke="#78001a" stroke-width="1.7" fill="none" stroke-linecap="round"/><path d="M-4.9 -96.1Q-6.5 -94.4 -4.6 -90.1M96.6 -8.2Q93.1 -4.9 88.7 -6.9M96.5 -0.3Q90.7 -0.2 83.8 5.6M-51.6 104Q-48.6 101.3 -50.3 98.2M-81.5 90.6Q-75.2 85.7 -64.8 83.9M-102 59.8Q-101.4 56.6 -98.9 57.3" stroke="#78001a" stroke-width="2.0" fill="none" stroke-linecap="round"/><path d="M96 7.8Q92 2.6 86.9 1.7" stroke="#80001a" stroke-width="1.4" fill="none" stroke-linecap="round"/><path d="M98.6 -44.4Q91.9 -42.6 84.6 -44.2M-65 -56.1Q-57.7 -55.1 -54.4 -47" stroke="#80001a" stroke-width="1.7" fill="none" stroke-linecap="round"/><path d="M5.2 -91.9Q4.6 -86.6 8.1 -81.3M85.9 62.1Q80.5 59.3 76.1 52.1M-105.7 45.7Q-101.2 44 -94.7 45.6" stroke="#80001a" stroke-width="2.0" fill="none" stroke-linecap="round"/><path d="M-21.3 -112.3Q-22.2 -106.6 -25.9 -102.3M-107.4 40.1Q-99.1 44.4 -90.4 46.2" stroke="#85001a" stroke-width="1.4" fill="none" stroke-linecap="round"/><path d="M97.7 -54.5Q95.5 -53.1 92.1 -52.3M95.4 15.8Q90.6 12.5 84.4 15.1" stroke="#85001a" stroke-width="1.7" fill="none" stroke-linecap="round"/><path d="M32.9 -101.3Q33.1 -98.8 34.2 -95.4M94.5 29.1Q86.8 25.3 78 22M-46 103.4Q-51.8 95.5 -50 85.9M-77.4 95.3Q-77.6 93 -73.6 93.9" stroke="#85001a" stroke-width="2.0" fill="none" stroke-linecap="round"/><path d="M66.5 -81.7Q58.8 -81.6 52.9 -78" stroke="#8c001a" stroke-width="1.7" fill="none" stroke-linecap="round"/><path d="M79.2 73.9Q77.6 66.5 72.6 61.5" stroke="#8c001a" stroke-width="2.0" fill="none" stroke-linecap="round"/><path d="M71.1 -76.3Q69.2 -74.7 67.6 -71.5M-98.2 66.7Q-96.2 67.2 -94.6 64.9M-100.1 -25.7Q-94.1 -23.3 -87.6 -19.5" stroke="#94001a" stroke-width="1.4" fill="none" stroke-linecap="round"/><path d="M-11.6 114.1Q-6 109.4 -3.3 102.8M-109.4 18.9Q-103.1 16.5 -95.4 19.2M-106.2 -12.6Q-98 -5.7 -90 3.8" stroke="#94001a" stroke-width="1.7" fill="none" stroke-linecap="round"/><path d="M61.6 -94.4Q57.1 -89 51 -85.3" stroke="#94001a" stroke-width="2.0" fill="none" stroke-linecap="round"/><path d="M-87.1 84.3Q-85.2 81.3 -82.4 77.8" stroke="#99001a" stroke-width="1.4" fill="none" stroke-linecap="round"/><path d="M59.2 93.1Q60 90.9 56.3 90.4M39.8 104.8Q32.8 95.9 27.5 85.3M-40.7 101.4Q-43.8 100.1 -43.3 95.9M-90.8 80.4Q-83 82.5 -76.8 79.8M-42 -94.1Q-40.5 -87.2 -37.2 -81" stroke="#99001a" stroke-width="1.7" fill="none" stroke-linecap="round"/><path d="M51.4 98.5Q44.7 97.5 41.8 93M13.4 113.1Q15.4 105.2 19.4 96.1M-73.1 98.1Q-69.7 93.3 -72.3 84.1M-109.5 8.5Q-101.2 9.7 -91.9 12.2M-85.8 -39.5Q-81.9 -40.6 -83 -36.7M-52.8 -76.5Q-49.5 -72.4 -44.2 -69.8M-48.6 -84.4Q-44.5 -81.8 -40.7 -76.7" stroke="#99001a" stroke-width="2.0" fill="none" stroke-linecap="round"/><path d="M11.2 -93.9Q18.9 -85.7 25 -75.5M79.1 -67.6Q80.4 -58.9 79.2 -49.6M-25 109.6Q-21.6 102 -19.8 92.3" stroke="#a3001a" stroke-width="1.4" fill="none" stroke-linecap="round"/><path d="M-12.6 -104.4Q-16.1 -100.7 -21.1 -97.4M92.2 -64.7Q94 -61.9 90.8 -60.9" stroke="#a3001a" stroke-width="1.7" fill="none" stroke-linecap="round"/><path d="M34 106.8Q29.2 105.1 29 100.6M-95.2 72.4Q-93.8 70.2 -89.2 72" stroke="#a3001a" stroke-width="2.0" fill="none" stroke-linecap="round"/><path d="M-29.9 105.2Q-20.6 104.7 -12.6 100.4M-108.7 28.9Q-106.6 26.3 -103.3 26.4" stroke="#b2001a" stroke-width="1.4" fill="none" stroke-linecap="round"/><path d="M19.6 -98.7Q20.4 -97.4 21.4 -95.1M57.8 -103.4Q50 -100.2 40.4 -98.6M4.2 114.3Q4.2 111.8 4.5 108.3M-2.3 115.3Q-5.7 114.3 -3.8 111.6M-60.9 104.9Q-63.4 98.3 -60.3 93.9M-93.7 -33.4Q-89.9 -23.1 -85.4 -12M-73.3 -49.5Q-68.3 -50.7 -67.9 -47" stroke="#b2001a" stroke-width="2.0" fill="none" stroke-linecap="round"/><path d="M-16.7 -108.1Q-18.4 -105.4 -19.3 -100.6M-108.3 -2.2Q-105.5 1.1 -101.4 1.9" stroke="#d1001a" stroke-width="1.4" fill="none" stroke-linecap="round"/><path d="M45.6 -107.2Q48.5 -105.2 46.6 -99.3" stroke="#d1001a" stroke-width="1.7" fill="none" stroke-linecap="round"/><path d="M98.2 -38.1Q96.9 -38.7 94.5 -36.6" stroke="#d1001a" stroke-width="2.0" fill="none" stroke-linecap="round"/><path d="M26.8 -100.1Q27.4 -97.6 27.4 -94.1M53.7 -111Q51.7 -108.1 48.7 -104.8M97.2 -25Q94.8 -27.6 91.2 -25.1M96.9 -17.3Q93.4 -14.8 89 -16.2M69.6 84.4Q69.4 79.5 63.1 79.9M-78.4 -45.4Q-75.2 -46 -75.5 -42.7M-56.3 -70.4Q-52.9 -70 -48.3 -69.9" stroke="#ff4c1a" stroke-width="1.4" fill="none" stroke-linecap="round"/><path d="M93.5 35.4Q89.9 36.5 86.1 32.3M25.5 109.9Q20.8 108 20.6 103.6M-103.7 53.2Q-99.8 55.1 -95.8 53.9M-61.6 -61.1Q-58 -61.4 -57.7 -54.1M-32 -104.4Q-28.1 -104.3 -27.1 -101M-23.6 -110.4Q-24.2 -106.8 -24.1 -102.4" stroke="#ff4c1a" stroke-width="1.7" fill="none" stroke-linecap="round"/><path d="M89.7 53.6Q85.7 54.4 83.5 48.6M-45.8 -89.6Q-44.8 -85.6 -41.3 -83" stroke="#ff4c1a" stroke-width="2.0" fill="none" stroke-linecap="round"/></g><g filter="url(#b1)"><path d="M26.4 -50.5C25.2 -48 20.9 -40.2 19.1 -35.9C17.3 -31.7 16.1 -26.8 15.5 -25" stroke="#ad001a" stroke-width="2" fill="none" stroke-linecap="round" stroke-linejoin="round" stroke-dasharray="6 3"/><path d="M8.2 -1.4C7 0.5 2.1 7.7 0.9 9.5" stroke="#a6001a" stroke-width="1.8" fill="none" stroke-linecap="round" stroke-linejoin="round" /><path d="M-50 -17.7C-50.5 -16.2 -51.8 -12 -52.7 -8.6C-53.6 -5.3 -55 0.5 -55.5 2.3" stroke="#bd001a" stroke-width="2" fill="none" stroke-linecap="round" stroke-linejoin="round" stroke-dasharray="5 3"/><path d="M64.5 11.4C63.6 13.8 61.8 21.4 59.1 25.9C56.4 30.5 50 36.5 48.2 38.6" stroke="#c7001a" stroke-width="2" fill="none" stroke-linecap="round" stroke-linejoin="round" stroke-dasharray="6 2"/><path d="M-97.3 -25C-96.1 -22.6 -91.2 -12.9 -90 -10.5" stroke="#99001a" stroke-width="1.6" fill="none" stroke-linecap="round" stroke-linejoin="round" /><path d="M-68.2 -39.5C-67.6 -36.5 -65.2 -24.4 -64.5 -21.4" stroke="#cc001a" stroke-width="1.8" fill="none" stroke-linecap="round" stroke-linejoin="round" stroke-dasharray="5 4"/><path d="M-20.9 38.6C-21.8 41.7 -25.2 50.8 -26.4 56.8C-27.6 62.9 -27.9 72 -28.2 75" stroke="#99001a" stroke-width="1.6" fill="none" stroke-linecap="round" stroke-linejoin="round" stroke-dasharray="5 3"/><path d="M-13.6 40.5C-12.4 42.6 -7.6 48.9 -6.4 53.2C-5.2 57.4 -6.4 63.8 -6.4 65.9" stroke="#8c001a" stroke-width="1.5" fill="none" stroke-linecap="round" stroke-linejoin="round" /><path d="M-57.3 62.3C-57.6 65 -59.7 74.1 -59.1 78.6C-58.5 83.2 -54.5 87.7 -53.6 89.5" stroke="#9e001a" stroke-width="1.6" fill="none" stroke-linecap="round" stroke-linejoin="round" /><path d="M60.9 -79.5C60.6 -77.1 57.6 -69.8 59.1 -65C60.6 -60.2 68.2 -52.9 70 -50.5" stroke="#99001a" stroke-width="1.6" fill="none" stroke-linecap="round" stroke-linejoin="round" /><path d="M-39.1 -92.3C-39.4 -90.2 -40.6 -81.7 -40.9 -79.5" stroke="#bf001a" stroke-width="1.6" fill="none" stroke-linecap="round" stroke-linejoin="round" /><path d="M79.1 55C80.6 56.2 86.7 61.1 88.2 62.3" stroke="#cc001a" stroke-width="1.8" fill="none" stroke-linecap="round" stroke-linejoin="round" /><path d="M2.7 36.8C4.2 37.9 10.3 42.1 11.8 43.2" stroke="#bf001a" stroke-width="1.5" fill="none" stroke-linecap="round" stroke-linejoin="round" /><path d="M93.6 -50.5C93.9 -44.4 94.8 -20.2 95.1 -14.1" stroke="#b2001a" stroke-width="1.3" fill="none" stroke-linecap="round" stroke-linejoin="round" stroke-dasharray="4 5"/></g><g filter="url(#b1)"><path d="M54 -110.8C53.1 -108.9 50.9 -102.6 48.5 -99.5C46.2 -96.5 41.3 -93.8 39.8 -92.6" stroke="#ff5900" stroke-width="1.8" fill="none" stroke-linecap="round" stroke-linejoin="round" /><ellipse cx="37.3" cy="-93.7" rx="4.7" ry="3.6" transform="rotate(0 37.3 -93.7)" fill="#d91a00"/><path d="M38.4 -88.6C37.9 -86.5 36.6 -80.5 35.5 -75.9C34.3 -71.4 32.8 -65.5 31.5 -61.4C30.1 -57.2 27.8 -52.9 27.1 -51.2" stroke="#ff5900" stroke-width="2.5" fill="none" stroke-linecap="round" stroke-linejoin="round" stroke-dasharray="9 1.6 6 2"/><ellipse cx="-20.5" cy="-109.4" rx="2" ry="2.2" transform="rotate(0 -20.5 -109.4)" fill="#ff5900"/><path d="M-20.2 -104.6C-19.9 -102.6 -19 -94.3 -18.7 -92.3" stroke="#ff5900" stroke-width="1.3" fill="none" stroke-linecap="round" stroke-linejoin="round" /><ellipse cx="18.4" cy="-27.2" rx="2.2" ry="1.6" transform="rotate(0 18.4 -27.2)" fill="#ff5900"/><ellipse cx="7.8" cy="-8.3" rx="3.3" ry="8" transform="rotate(28 7.8 -8.3)" fill="#ff5900"/><path d="M0.9 7C2.4 7.6 2 17.3 2.4 22.3C2.7 27.2 4.2 35.2 3.1 36.8C1.9 38.4 -1.9 33.2 -4.5 31.7C-7.2 30.2 -12.6 29.9 -12.9 27.7C-13.2 25.5 -8.7 22.1 -6.4 18.6C-4.1 15.2 -0.5 6.4 0.9 7Z" fill="#ff5900" /><path d="M-63.8 -57.7C-62.4 -58.6 -57.8 -62.6 -55.5 -63.2C-53.1 -63.8 -52.1 -62.9 -49.6 -61.4C-47.2 -59.8 -43 -55.9 -40.5 -54.1C-38.1 -52.3 -36 -51.1 -35.1 -50.5" stroke="#ff5900" stroke-width="2" fill="none" stroke-linecap="round" stroke-linejoin="round" /><path d="M-53.6 -63.9C-53.4 -64.6 -50 -62.2 -47.1 -60.3C-44.2 -58.4 -37.8 -55.7 -36.2 -52.6C-34.6 -49.6 -36.7 -44.9 -37.6 -42.1C-38.5 -39.3 -40.7 -34.8 -41.6 -35.9C-42.6 -37 -42.3 -45.3 -43.5 -48.6C-44.6 -52 -46.8 -53.4 -48.5 -55.9C-50.2 -58.5 -53.9 -63.2 -53.6 -63.9Z" fill="#ff5900" /><path d="M-42.7 -34.1C-43 -31.9 -43.9 -23.2 -44.2 -21" stroke="#ff5900" stroke-width="1.6" fill="none" stroke-linecap="round" stroke-linejoin="round" /><path d="M-96.9 -28.3C-95.4 -29.2 -91.1 -31.7 -87.8 -34.1C-84.5 -36.5 -79 -41.1 -77.3 -42.5" stroke="#ff5900" stroke-width="1.5" fill="none" stroke-linecap="round" stroke-linejoin="round" stroke-dasharray="6 3"/><path d="M59.5 -26.8C61.2 -25.9 67 -23.5 70 -21.4C73 -19.2 74 -16.2 77.6 -14.1C81.3 -12 88.8 -11.4 91.8 -8.6C94.8 -5.9 95.2 0.5 95.8 2.3" stroke="#ff5900" stroke-width="2" fill="none" stroke-linecap="round" stroke-linejoin="round" /><path d="M75.8 -17.4C75.6 -14.7 76.2 -5.6 74.4 -1.4C72.5 2.9 66.5 6.5 64.9 8.1" stroke="#ff5900" stroke-width="2.7" fill="none" stroke-linecap="round" stroke-linejoin="round" /><ellipse cx="-54.4" cy="31.4" rx="9.8" ry="3.1" transform="rotate(-30 -54.4 31.4)" fill="#ff5900"/><path d="M22 51.7C22.9 49.5 30.3 50.4 31.8 52.5C33.3 54.5 32 61.8 31.1 64.1C30.2 66.3 27.9 68 26.4 65.9C24.8 63.8 21.1 54 22 51.7Z" fill="#ff5900" /><ellipse cx="86" cy="56.8" rx="1.6" ry="4" transform="rotate(-20 86 56.8)" fill="#ff5900"/><ellipse cx="-108.9" cy="38.6" rx="1.5" ry="2.5" transform="rotate(0 -108.9 38.6)" fill="#ff5900"/><ellipse cx="-91.8" cy="-31.9" rx="1.8" ry="1.5" transform="rotate(0 -91.8 -31.9)" fill="#ff5900"/><ellipse cx="-56.5" cy="62.3" rx="1.5" ry="1.3" transform="rotate(0 -56.5 62.3)" fill="#ff5900"/><ellipse cx="-26" cy="67.7" rx="1.3" ry="2.2" transform="rotate(0 -26 67.7)" fill="#ff5900"/><ellipse cx="15.1" cy="68.6" rx="1.3" ry="1.3" transform="rotate(0 15.1 68.6)" fill="#ff5900"/><ellipse cx="7.8" cy="78.6" rx="1.3" ry="1.6" transform="rotate(0 7.8 78.6)" fill="#ff5900"/><ellipse cx="-31.5" cy="102.6" rx="1.1" ry="1.3" transform="rotate(0 -31.5 102.6)" fill="#ff5900"/><ellipse cx="92.9" cy="-31.9" rx="1.1" ry="1.6" transform="rotate(0 92.9 -31.9)" fill="#ff5900"/><ellipse cx="60.5" cy="-66.8" rx="1.1" ry="1.6" transform="rotate(0 60.5 -66.8)" fill="#ff5900"/><ellipse cx="-65.6" cy="-25" rx="1.3" ry="4" transform="rotate(-5 -65.6 -25)" fill="#ff5900"/></g></g></g><path id="brainCO" d="M-20.9 -140C-25.2 -139.7 -27.6 -138.2 -31.8 -136.4C-36.1 -134.5 -40.9 -131.8 -46.4 -129.1C-51.8 -126.4 -58.5 -123.3 -64.5 -120C-70.6 -116.7 -77.6 -113.3 -82.7 -109.1C-87.9 -104.8 -91.8 -100 -95.5 -94.5C-99.1 -89.1 -102 -83 -104.5 -76.4C-107.1 -69.7 -109.1 -62.1 -110.9 -54.5C-112.7 -47 -114.4 -39.1 -115.5 -30.9C-116.5 -22.7 -117.1 -13.6 -117.3 -5.5C-117.4 2.7 -117.1 10.3 -116.4 18.2C-115.6 26.1 -114.4 34.2 -112.7 41.8C-111.1 49.4 -108.9 56.7 -106.4 63.6C-103.8 70.6 -100.9 77.3 -97.3 83.6C-93.6 90 -89.4 96.1 -84.5 101.8C-79.7 107.6 -73.9 113.3 -68.2 118.2C-62.4 123 -56.7 127.6 -50 130.9C-43.3 134.2 -35.5 136.7 -28.2 138.2C-20.9 139.7 -13.6 140.3 -6.4 140C0.9 139.7 8.2 138.2 15.5 136.4C22.7 134.5 30.3 132.1 37.3 129.1C44.2 126.1 50.9 122.4 57.3 118.2C63.6 113.9 69.7 109.1 75.5 103.6C81.2 98.2 87 92.1 91.8 85.5C96.7 78.8 101.2 70.9 104.5 63.6C107.9 56.4 109.8 49.4 111.8 41.8C113.8 34.2 115.5 26.1 116.4 18.2C117.3 10.3 117.6 2.4 117.3 -5.5C117 -13.3 115.9 -21.2 114.5 -29.1C113.2 -37 111.4 -45.2 109.1 -52.7C106.8 -60.3 103.8 -67.6 100.9 -74.5C98 -81.5 95.2 -88.2 91.8 -94.5C88.5 -100.9 84.5 -107.3 80.9 -112.7C77.3 -118.2 74.2 -123.6 70 -127.3C65.8 -130.9 61.5 -133 55.5 -134.5C49.4 -136.1 40.9 -136.1 33.6 -136.4C26.4 -136.7 18.5 -136.1 11.8 -136.4C5.2 -136.7 -0.9 -137.6 -6.4 -138.2C-11.8 -138.8 -16.7 -140.3 -20.9 -140Z"/><path id="brainCI" d="M-13.6 -121.8C-17.3 -122.1 -20.9 -118.5 -24.5 -116.4C-28.2 -114.2 -31.2 -111.8 -35.5 -109.1C-39.7 -106.4 -45.2 -102.7 -50 -100C-54.8 -97.3 -59.7 -94.1 -64.5 -92.7C-69.4 -91.4 -75.6 -94.2 -79.1 -91.8C-82.6 -89.4 -84.5 -83.5 -85.5 -78.2C-86.4 -72.9 -84.4 -66.7 -84.5 -60C-84.7 -53.3 -84.8 -44.8 -86.4 -38.2C-87.9 -31.5 -91.2 -25.8 -93.6 -20C-96.1 -14.2 -99.4 -9.4 -100.9 -3.6C-102.4 2.1 -102.6 8.2 -102.7 14.5C-102.9 20.9 -102.9 27.9 -101.8 34.5C-100.8 41.2 -98.6 48.2 -96.4 54.5C-94.1 60.9 -91.7 67.3 -88.2 72.7C-84.7 78.2 -80.3 82.4 -75.5 87.3C-70.6 92.1 -64.5 97.6 -59.1 101.8C-53.6 106.1 -48.5 110 -42.7 112.7C-37 115.5 -30.6 117.9 -24.5 118.2C-18.5 118.5 -11.8 117 -6.4 114.5C-0.9 112.1 4.8 107 8.2 103.6C11.5 100.3 11.2 94.5 13.6 94.5C16.1 94.5 18.2 102.7 22.7 103.6C27.3 104.5 34.8 102.1 40.9 100C47 97.9 53.3 94.8 59.1 90.9C64.8 87 70.3 81.8 75.5 76.4C80.6 70.9 86.1 64.5 90 58.2C93.9 51.8 96.7 44.8 99.1 38.2C101.5 31.5 103.5 24.8 104.5 18.2C105.6 11.5 106.1 4.5 105.5 -1.8C104.8 -8.2 103.2 -14.5 100.9 -20C98.6 -25.5 94.2 -29.7 91.8 -34.5C89.4 -39.4 88.5 -43.6 86.4 -49.1C84.2 -54.5 81.5 -61.2 79.1 -67.3C76.7 -73.3 74.2 -79.4 71.8 -85.5C69.4 -91.5 67.6 -98.2 64.5 -103.6C61.5 -109.1 58.2 -115.2 53.6 -118.2C49.1 -121.2 43 -122.1 37.3 -121.8C31.5 -121.5 24.5 -118.5 19.1 -116.4C13.6 -114.2 8.2 -109.4 4.5 -109.1C0.9 -108.8 0.3 -112.4 -2.7 -114.5C-5.8 -116.7 -10 -121.5 -13.6 -121.8Z"/><clipPath id="brainCcI"><use href="#brainCI"/></clipPath><clipPath id="brainCcO"><use href="#brainCO"/></clipPath><g id="brainC"><g filter="url(#b2)"><use href="#brainCO" fill="#280029"/><use href="#brainCO" fill="none" stroke="#1b000f" stroke-width="4" transform="scale(0.94)"/><use href="#brainCO" fill="none" stroke="#37001a" stroke-width="2.2" transform="scale(0.985)"/></g><g filter="url(#b3)" clip-path="url(#brainCcO)"><ellipse cx="-19.1" cy="-129.1" rx="12.7" ry="9.1" transform="rotate(0 -19.1 -129.1)" fill="#47004c"/><ellipse cx="-57.3" cy="-110.9" rx="21.8" ry="7.3" transform="rotate(-30 -57.3 -110.9)" fill="#2f0033"/><ellipse cx="70" cy="-112.7" rx="20" ry="7.3" transform="rotate(40 70 -112.7)" fill="#2f0033"/></g><use href="#brainCI" fill="none" stroke="#060005" stroke-width="7" filter="url(#b1)"/><g filter="url(#b1)"><use href="#brainCI" fill="#44004c"/></g><g clip-path="url(#brainCcI)"><use href="#brainCI" fill="none" stroke="#4b0061" stroke-width="34" filter="url(#b3)"/><g filter="url(#b3)"><path d="M-31.8 -23.6C-28.5 -26.4 -20.9 -28.5 -17.3 -27.3C-13.6 -26.1 -10 -20.6 -10 -16.4C-10 -12.1 -13.6 -4.8 -17.3 -1.8C-20.9 1.2 -28.5 3.3 -31.8 1.8C-35.2 0.3 -37.3 -6.7 -37.3 -10.9C-37.3 -15.2 -35.2 -20.9 -31.8 -23.6Z" fill="#320014" /><path d="M11.8 -30.9C13.9 -33.3 25.5 -30.3 30 -27.3C34.5 -24.2 39.1 -16.7 39.1 -12.7C39.1 -8.8 33.6 -3.6 30 -3.6C26.4 -3.6 20.3 -8.2 17.3 -12.7C14.2 -17.3 9.7 -28.5 11.8 -30.9Z" fill="#320014" /><path d="M-20.9 1.8C-18.2 -0.6 -7.6 -2.1 -4.5 0C-1.5 2.1 -1.5 10.6 -2.7 14.5C-3.9 18.5 -8.8 23.6 -11.8 23.6C-14.8 23.6 -19.4 18.2 -20.9 14.5C-22.4 10.9 -23.6 4.2 -20.9 1.8Z" fill="#39001f" /><path d="M8.2 -1.8C10.8 -3.9 20 -2.7 22.7 0C25.5 2.7 25.8 10.8 24.5 14.5C23.3 18.3 18.3 23 15.5 22.7C12.6 22.4 8.5 16.8 7.3 12.7C6.1 8.6 5.6 0.3 8.2 -1.8Z" fill="#39001f" /><path d="M-46.4 -81.8C-42.1 -85.5 -30 -88.5 -24.5 -85.5C-19.1 -82.4 -14.2 -71.5 -13.6 -63.6C-13 -55.8 -16.7 -41.8 -20.9 -38.2C-25.2 -34.5 -34.2 -37.6 -39.1 -41.8C-43.9 -46.1 -48.8 -57 -50 -63.6C-51.2 -70.3 -50.6 -78.2 -46.4 -81.8Z" fill="#400038" /><path d="M11.8 -89.1C15.8 -93 27.9 -92.7 33.6 -89.1C39.4 -85.5 45.5 -75.2 46.4 -67.3C47.3 -59.4 43.6 -46.1 39.1 -41.8C34.5 -37.6 23.9 -37.9 19.1 -41.8C14.2 -45.8 11.2 -57.6 10 -65.5C8.8 -73.3 7.9 -85.2 11.8 -89.1Z" fill="#400038" /><path d="M-71.8 27.3C-67.9 20 -53 18.2 -46.4 20C-39.7 21.8 -31.8 29.4 -31.8 38.2C-31.8 47 -40 68.5 -46.4 72.7C-52.7 77 -65.8 71.2 -70 63.6C-74.2 56.1 -75.8 34.5 -71.8 27.3Z" fill="#420047" /><path d="M35.5 43.6C40.3 38.2 57.9 34.5 64.5 36.4C71.2 38.2 77 47.6 75.5 54.5C73.9 61.5 62.1 75.8 55.5 78.2C48.8 80.6 38.8 74.8 35.5 69.1C32.1 63.3 30.6 49.1 35.5 43.6Z" fill="#420047" /></g><g filter="url(#b3)"><ellipse cx="-11.8" cy="-109.1" rx="9.1" ry="9.1" transform="rotate(0 -11.8 -109.1)" fill="#660080"/></g><use href="#brainCI" fill="none" stroke="#cc1a00" stroke-width="3.2" stroke-dasharray="2.5 6 4 8 2 10" filter="url(#b1)"/><use href="#brainCI" fill="none" stroke="#7d004c" stroke-width="2.4" filter="url(#b1)"/><g filter="url(#b1)"><path d="M-48.4 -99.9Q-48.9 -95.7 -45.8 -92.3M-33.2 114.5Q-31.5 108.3 -27.7 101.7" stroke="#78001a" stroke-width="1.4" fill="none" stroke-linecap="round"/><path d="M-100.1 -3.1Q-94.7 0.6 -88.6 4.9M-101.6 17.9Q-96.9 15.6 -91 20.7M-82.1 78.2Q-79.1 77.9 -77.2 74.7M80 -62.4Q78.4 -57.6 74 -57.1" stroke="#78001a" stroke-width="1.7" fill="none" stroke-linecap="round"/><path d="M-63.2 96.8Q-62.1 94.5 -59.7 91.9M66.3 -96.7Q55.1 -98.3 43.4 -98.7" stroke="#78001a" stroke-width="2.0" fill="none" stroke-linecap="round"/><path d="M21.1 100.6Q25.2 97.2 27.7 91.8M64.1 85.2Q56.7 80.9 48.7 75.9M104.1 7.2Q100.6 7.7 96.3 5.2" stroke="#80001a" stroke-width="1.4" fill="none" stroke-linecap="round"/><path d="M-81.1 -85.5Q-80.2 -84.5 -78.8 -82.2" stroke="#80001a" stroke-width="2.0" fill="none" stroke-linecap="round"/><path d="M-100.9 33.2Q-92.2 36.9 -83.3 37" stroke="#85001a" stroke-width="1.4" fill="none" stroke-linecap="round"/><path d="M-94 -17Q-92.1 -18 -90 -17.1M94 47.4Q92.1 48.3 91.6 44.2" stroke="#85001a" stroke-width="1.7" fill="none" stroke-linecap="round"/><path d="M-62.8 -92.5Q-58.4 -90.8 -61 -86.8M-88 -31.8Q-86.1 -33.1 -85.5 -28.6M-101 7.2Q-98.3 4.5 -95.2 8.9M-27.6 116.3Q-29.5 109.5 -27.3 102.3" stroke="#85001a" stroke-width="2.0" fill="none" stroke-linecap="round"/><path d="M-96.8 -10.5Q-91.2 -2.6 -82 -0.2M-14.3 115.1Q-17.6 114.3 -15.9 111.5M46.2 96.2Q47.3 94.1 45.1 92.4M56 91.4Q53.7 87.1 52.7 80.9M72.3 77.8Q67.9 73.2 61.2 69.4M24.3 -116.9Q24.9 -115.7 26.7 -113.8" stroke="#8c001a" stroke-width="1.7" fill="none" stroke-linecap="round"/><path d="M-33.8 -109Q-30.2 -108.6 -32.4 -103.2M-70.5 -91.5Q-73 -89.1 -67.5 -86.3M-84.7 -45.8Q-78.4 -43.7 -71 -43.1M-39.8 112.6Q-38.2 108.2 -40.4 101.7" stroke="#8c001a" stroke-width="2.0" fill="none" stroke-linecap="round"/><path d="M92.5 -31.6Q87.5 -27.4 79.2 -27.4" stroke="#94001a" stroke-width="1.4" fill="none" stroke-linecap="round"/><path d="M35 -120.2Q36.3 -116.1 42.9 -112.6" stroke="#94001a" stroke-width="2.0" fill="none" stroke-linecap="round"/><path d="M-95.8 53.7Q-93.1 54.5 -92.2 48.9M13.9 93.6Q16.4 82.3 20.9 71.7" stroke="#99001a" stroke-width="1.4" fill="none" stroke-linecap="round"/><path d="M53.8 -117.2Q55.8 -114.4 54.8 -111.3M41.3 -119.9Q41.5 -117.4 38.9 -114.4" stroke="#99001a" stroke-width="1.7" fill="none" stroke-linecap="round"/><path d="M-27 -113.6Q-26.1 -112.5 -25.9 -109.7M-43 -103.2Q-42.3 -101.9 -41.3 -99.6M-91.2 -23.5Q-89.9 -17.9 -85.4 -18.1M6 -108.8Q5.9 -107.4 6.2 -104.8" stroke="#99001a" stroke-width="2.0" fill="none" stroke-linecap="round"/><path d="M-101.2 27Q-99.8 24.5 -97.2 27.5M-67.8 92.7Q-65 83.9 -57.1 78.3M40.5 99.1Q36.4 95.6 35.7 89.2M101 -15.4Q91.7 -18.5 83.1 -14.7" stroke="#a3001a" stroke-width="1.4" fill="none" stroke-linecap="round"/><path d="M87.1 60.3Q82.9 58 76.6 56.9" stroke="#a3001a" stroke-width="1.7" fill="none" stroke-linecap="round"/><path d="M-12.9 -121.1Q-5 -116.2 0.4 -109M87.1 -44.4Q85.8 -43.4 83.3 -43M74.7 -75.6Q62.7 -77.5 51.8 -74.2" stroke="#a3001a" stroke-width="2.0" fill="none" stroke-linecap="round"/><path d="M-53.6 -97.2Q-52.8 -96 -50.5 -94.6M-83.6 -60.3Q-75.4 -62.8 -66.3 -65.5M-45.6 109.7Q-40.4 107.9 -36 104.5M100.7 28.6Q97.1 22.8 90.5 24.3" stroke="#b2001a" stroke-width="1.4" fill="none" stroke-linecap="round"/><path d="M-83.8 -66.1Q-80.4 -68.2 -75.9 -66.5M-0.4 -111.7Q1.5 -106.7 -1.2 -103.8" stroke="#b2001a" stroke-width="1.7" fill="none" stroke-linecap="round"/><path d="M-20.5 -117.4Q-20.8 -113.9 -21.1 -109.4M98.2 37.7Q96 40.2 94.7 35.8M83.3 -54.1Q83.4 -50.1 80.2 -51.6M71.6 -83.4Q69.8 -79 65.6 -78.1" stroke="#d1001a" stroke-width="1.4" fill="none" stroke-linecap="round"/><path d="M-84.4 -77Q-82.2 -79.6 -78.9 -79.3M-5.4 112.7Q-3.6 107.2 -7.8 105M14 -112.8Q18.8 -112.5 18.3 -108.6" stroke="#d1001a" stroke-width="1.7" fill="none" stroke-linecap="round"/><path d="M-0.9 109.2Q-0.2 106.8 -3.1 105.9M58.1 -110.6Q54.8 -109.5 50.5 -108.3" stroke="#d1001a" stroke-width="2.0" fill="none" stroke-linecap="round"/><path d="M-78.1 82.8Q-74.3 82 -73.6 76.2M64.3 -101.7Q62.9 -97.2 57.8 -97M47.1 -118.7Q48.6 -117 44.7 -115.5M-10.3 -118.5Q-11.3 -115.1 -16.7 -113.7" stroke="#ff4c1a" stroke-width="1.4" fill="none" stroke-linecap="round"/><path d="M-89.7 67Q-86.9 65.2 -81.8 66M-57.7 101.7Q-60 98.5 -57.2 97.7M102.8 20.9Q100.3 20.8 97.3 18.4" stroke="#ff4c1a" stroke-width="1.7" fill="none" stroke-linecap="round"/><path d="M-98.6 43.1Q-95.9 44.5 -94.2 38.9M8.8 100.7Q6.5 97.8 1.2 98.1M30.1 101.1Q31.4 99.3 29.3 97.2M81.6 67.1Q80.9 62.5 76.4 61.1M104.5 -2.1Q102.6 -0.3 98.7 -3.5M96.8 -24.7Q95 -21 90.5 -19.7M89.5 -38.1Q87.7 -34.5 84.4 -32" stroke="#ff4c1a" stroke-width="2.0" fill="none" stroke-linecap="round"/></g><g filter="url(#b1)"><path d="M-10.9 -120C-11.1 -117.9 -11.7 -109.4 -11.8 -107.3" stroke="#bf001a" stroke-width="1.8" fill="none" stroke-linecap="round" stroke-linejoin="round" stroke-dasharray="4 3"/><path d="M-9.1 -70.9C-9 -67.9 -9 -58.2 -8.5 -52.7C-8.1 -47.3 -6.7 -40.6 -6.4 -38.2" stroke="#9e001a" stroke-width="1.8" fill="none" stroke-linecap="round" stroke-linejoin="round" stroke-dasharray="6 3"/><path d="M-57.3 -9.1C-57 -6.1 -56.4 3.3 -55.5 9.1C-54.5 14.8 -52.4 22.7 -51.8 25.5" stroke="#cc001a" stroke-width="2" fill="none" stroke-linecap="round" stroke-linejoin="round" stroke-dasharray="6 2"/><path d="M-84.5 -34.2C-81.2 -34.1 -67.9 -33.6 -64.5 -33.5" stroke="#bf001a" stroke-width="1.5" fill="none" stroke-linecap="round" stroke-linejoin="round" /><path d="M-60 -38.2C-59.5 -39.4 -58.9 -43.4 -57.3 -45.5C-55.6 -47.5 -51.2 -49.7 -50 -50.5" stroke="#d9001a" stroke-width="1.6" fill="none" stroke-linecap="round" stroke-linejoin="round" /><path d="M62.7 -38.2C62.6 -35.2 62.1 -25.8 61.8 -20C61.5 -14.2 62.3 -8.2 60.9 -3.6C59.5 0.9 54.8 5.5 53.6 7.3" stroke="#d9001a" stroke-width="2" fill="none" stroke-linecap="round" stroke-linejoin="round" stroke-dasharray="7 2"/><path d="M33.6 -58.2C34.2 -58.8 36.7 -61.2 37.3 -61.8" stroke="#bf001a" stroke-width="1.6" fill="none" stroke-linecap="round" stroke-linejoin="round" /><path d="M53.6 -52.7C53.3 -51.2 52.1 -45.2 51.8 -43.6" stroke="#cc001a" stroke-width="1.6" fill="none" stroke-linecap="round" stroke-linejoin="round" /><path d="M-80.9 -3.6C-79.7 -1.5 -75.5 6.4 -73.6 9.1C-71.8 11.8 -70.6 12.1 -70 12.7" stroke="#cc001a" stroke-width="1.6" fill="none" stroke-linecap="round" stroke-linejoin="round" stroke-dasharray="6 3"/><path d="M6.4 29.1C6.3 34.8 5.4 51.8 6 63.6C6.6 75.5 9.3 93.9 10 100" stroke="#7a001a" stroke-width="1.3" fill="none" stroke-linecap="round" stroke-linejoin="round" stroke-dasharray="3 4"/><path d="M15.5 43.6C16.7 44.8 19.7 49.5 22.7 50.9C25.8 52.3 31.8 51.7 33.6 51.8" stroke="#99001a" stroke-width="1.5" fill="none" stroke-linecap="round" stroke-linejoin="round" /><path d="M90 10.9C91.5 10.8 97.6 10.2 99.1 10" stroke="#b2001a" stroke-width="1.5" fill="none" stroke-linecap="round" stroke-linejoin="round" /><path d="M-64.5 -67.3C-62.1 -65.5 -52.4 -58.2 -50 -56.4" stroke="#8c001a" stroke-width="1.5" fill="none" stroke-linecap="round" stroke-linejoin="round" /><path d="M22.7 -109.1C23 -106.4 23.3 -97.3 24.5 -92.7C25.8 -88.2 29.1 -83.6 30 -81.8" stroke="#8c001a" stroke-width="1.5" fill="none" stroke-linecap="round" stroke-linejoin="round" /></g><g filter="url(#b1)"><ellipse cx="-12.7" cy="-96.7" rx="2.4" ry="3.6" transform="rotate(0 -12.7 -96.7)" fill="#e62600"/><path d="M-10 -81.8C-9.8 -80.5 -9.2 -75.5 -9.1 -74.2" stroke="#ff5900" stroke-width="1.6" fill="none" stroke-linecap="round" stroke-linejoin="round" /><path d="M-0.9 -27.3C-0.7 -24.7 0.3 -14.4 0.5 -11.8" stroke="#ff5900" stroke-width="4" fill="none" stroke-linecap="round" stroke-linejoin="round" /><ellipse cx="6.4" cy="-28.4" rx="1.6" ry="3.3" transform="rotate(0 6.4 -28.4)" fill="#ff5900"/><path d="M0.9 -6.9C1.1 -4.2 1.7 6.4 1.8 9.1" stroke="#ff5900" stroke-width="2.2" fill="none" stroke-linecap="round" stroke-linejoin="round" /><path d="M1.8 6.9C3.9 7.2 7.4 15.5 10 18.2C12.6 20.8 18.5 22.2 17.6 22.9C16.7 23.6 8.6 21.9 4.5 22.2C0.5 22.5 -5.5 25.7 -6.7 24.7C-7.9 23.8 -4.2 19.3 -2.7 16.4C-1.3 13.4 -0.3 6.6 1.8 6.9Z" fill="#ff5900" /><path d="M-86.4 -35.5C-85.1 -36.7 -77.9 -36.3 -76.9 -34.5C-75.9 -32.8 -79.3 -26.3 -80.5 -25.1C-81.8 -23.9 -83.6 -25.5 -84.5 -27.3C-85.5 -29 -87.6 -34.2 -86.4 -35.5Z" fill="#ff5900" /><path d="M-67.3 -33.6C-66.8 -35.5 -61.5 -33.8 -59.8 -30.9C-58.1 -28 -57 -19.8 -56.9 -16.4C-56.8 -13 -58.1 -9.9 -59.1 -10.5C-60.1 -11.2 -61.4 -16.2 -62.7 -20C-64.1 -23.8 -67.8 -31.8 -67.3 -33.6Z" fill="#ff5900" /><path d="M71.8 -60C72.1 -61.6 77.8 -62.1 80.9 -58.2C84 -54.2 89.5 -40.4 90.4 -36.4C91.3 -32.4 88.2 -32.1 86.4 -34.2C84.5 -36.2 81.9 -44.4 79.5 -48.7C77 -53 71.6 -58.4 71.8 -60Z" fill="#ff5900" /><ellipse cx="41.3" cy="-64.4" rx="2.5" ry="2.2" transform="rotate(0 41.3 -64.4)" fill="#ff5900"/><ellipse cx="-37.3" cy="47.6" rx="3.5" ry="10.5" transform="rotate(18 -37.3 47.6)" fill="#ff5900"/><path d="M40.9 25.5C41.5 23.8 47.7 23.3 50 24.5C52.3 25.8 54.2 30.3 54.7 32.7C55.2 35.2 54.3 39 52.9 39.3C51.5 39.6 48.4 36.8 46.4 34.5C44.4 32.2 40.3 27.1 40.9 25.5Z" fill="#ff5900" /><path d="M101.8 -1.5C102.3 0.6 104.1 8.8 104.5 10.9" stroke="#ff5900" stroke-width="1.6" fill="none" stroke-linecap="round" stroke-linejoin="round" /><path d="M-0.9 -110.5C0.5 -109.9 5.4 -106.4 7.8 -106.9C10.2 -107.4 12.7 -112.4 13.6 -113.5" stroke="#ff5900" stroke-width="1.5" fill="none" stroke-linecap="round" stroke-linejoin="round" /><path d="M48.2 -117.8C49.7 -116.4 55.1 -111.2 57.3 -109.1C59.5 -107 60.6 -105.8 61.3 -105.1" stroke="#ff5900" stroke-width="1.6" fill="none" stroke-linecap="round" stroke-linejoin="round" /><path d="M-84.5 -74.5C-84.4 -72.7 -83.6 -65.5 -83.5 -63.6" stroke="#ff5900" stroke-width="1.3" fill="none" stroke-linecap="round" stroke-linejoin="round" /><path d="M64.2 -100C64.5 -98.5 66 -92.4 66.4 -90.9" stroke="#ff5900" stroke-width="1.3" fill="none" stroke-linecap="round" stroke-linejoin="round" /><ellipse cx="-99.1" cy="10.9" rx="1.6" ry="1.3" transform="rotate(0 -99.1 10.9)" fill="#ff5900"/><ellipse cx="-90" cy="41.1" rx="1.3" ry="1.3" transform="rotate(0 -90 41.1)" fill="#ff5900"/><ellipse cx="-5.5" cy="72.7" rx="1.3" ry="2.2" transform="rotate(0 -5.5 72.7)" fill="#ff5900"/><ellipse cx="-9.6" cy="100" rx="1.6" ry="1.1" transform="rotate(0 -9.6 100)" fill="#ff5900"/><ellipse cx="42.7" cy="58.2" rx="1.1" ry="1.8" transform="rotate(0 42.7 58.2)" fill="#ff5900"/><ellipse cx="42.7" cy="45.5" rx="1.1" ry="1.3" transform="rotate(0 42.7 45.5)" fill="#ff5900"/><ellipse cx="26.4" cy="25.5" rx="1.5" ry="1.1" transform="rotate(0 26.4 25.5)" fill="#ff5900"/><ellipse cx="-22.4" cy="72.7" rx="1.1" ry="1.5" transform="rotate(0 -22.4 72.7)" fill="#ff5900"/><ellipse cx="-80.9" cy="78.5" rx="1.5" ry="1.3" transform="rotate(-40 -80.9 78.5)" fill="#ff5900"/><ellipse cx="-53.6" cy="22.7" rx="1.3" ry="2.9" transform="rotate(-25 -53.6 22.7)" fill="#ff5900"/><ellipse cx="-86.4" cy="-8.2" rx="1.1" ry="1.8" transform="rotate(0 -86.4 -8.2)" fill="#ff5900"/></g></g></g><path id="hO1" d="M194.5 1283.9C200.7 1281.7 216.8 1280.5 224.8 1280.3C232.8 1280.1 238.1 1282.8 242.7 1282.5C247.3 1282.2 248 1279.5 252.3 1278.4C256.7 1277.2 263.8 1274.5 268.8 1275.6C273.9 1276.8 277.1 1282.3 282.6 1285.3C288.1 1288.2 297.2 1289.9 301.8 1293.5C306.4 1297.2 308 1300.9 310.1 1307.3C312.1 1313.7 312.9 1323.3 314.2 1332C315.5 1340.7 317.3 1350.8 317.8 1359.6C318.2 1368.3 318.2 1376.1 317 1384.3C315.7 1392.6 313.5 1401.3 310.1 1409.1C306.6 1416.9 302.3 1424.7 296.3 1431.1C290.4 1437.5 282.1 1443.2 274.3 1447.6C266.5 1451.9 257.8 1455.3 249.6 1457.2C241.3 1459.1 233 1459.8 224.8 1459.1C216.5 1458.5 207.4 1457.3 200 1453.1C192.7 1448.9 186 1441.2 180.8 1433.8C175.5 1426.5 171.4 1418.2 168.4 1409.1C165.4 1399.9 163.6 1387.1 162.9 1378.8C162.2 1370.6 162.7 1366.4 164.3 1359.6C165.9 1352.7 169.8 1345.8 172.5 1337.5C175.3 1329.3 178.3 1317.4 180.8 1310C183.3 1302.7 185.4 1297.9 187.7 1293.5C189.9 1289.2 188.3 1286.1 194.5 1283.9Z"/><clipPath id="hc1"><use href="#hO1"/></clipPath><path id="hR1" d="M201.4 1290.8C200.3 1295.8 196.6 1314.2 194.5 1321C192.5 1327.9 191.5 1327.5 189 1332C186.5 1336.6 182.4 1343 179.4 1348.5C176.4 1354 172.7 1360 171.1 1365.1C169.6 1370.1 170.1 1373.8 170.3 1378.8C170.5 1383.9 171 1390 172.5 1395.3C174 1400.6 176.6 1405.6 179.4 1410.5C182.1 1415.3 185.1 1420.1 189 1424.2C192.9 1428.3 197.7 1432.6 202.8 1435.2C207.8 1437.8 214.2 1439.2 219.3 1439.9C224.3 1440.6 227.8 1439.4 233 1439.3C238.3 1439.2 245.4 1440 250.9 1439.3C256.4 1438.7 261.2 1437 266.1 1435.2C270.9 1433.4 275.5 1431.3 279.8 1428.3C284.2 1425.4 288.5 1421.2 292.2 1417.3C295.9 1413.4 299.3 1409.1 301.8 1404.9C304.4 1400.8 306.1 1396.9 307.3 1392.6C308.6 1388.2 309.3 1383.4 309.3 1378.8C309.3 1374.2 308.3 1369.6 307.3 1365.1C306.3 1360.5 304.3 1356.8 303.2 1351.3C302.2 1345.8 301.7 1338 301 1332C300.3 1326.1 301 1321.5 299.1 1315.5C297.2 1309.6 291.1 1299.5 289.5 1296.3"/><path id="hO2" d="M425.6 1274.3C431.1 1271.1 438.5 1272.1 444.9 1272.1C451.3 1272 459.1 1272 464.2 1273.7C469.2 1275.5 470.6 1280.4 475.2 1282.5C479.8 1284.7 485.3 1283.7 491.7 1286.6C498.1 1289.6 507 1295.8 513.7 1300.4C520.3 1305 528.4 1308 531.6 1314.2C534.8 1320.3 533.2 1329.1 532.9 1337.5C532.7 1346 531.3 1356.8 530.2 1365.1C529 1373.3 527.9 1379.7 526.1 1387.1C524.2 1394.4 523.1 1402.2 519.2 1409.1C515.3 1416 509.6 1422.4 502.7 1428.3C495.8 1434.3 486.6 1440.9 477.9 1444.8C469.2 1448.7 459.6 1450.1 450.4 1451.7C441.2 1453.3 431.6 1455.2 422.9 1454.5C414.2 1453.8 405 1451.5 398.1 1447.6C391.2 1443.7 386 1437.5 381.6 1431.1C377.3 1424.7 374.1 1417.8 372 1409.1C369.9 1400.4 369 1388.4 369.2 1378.8C369.5 1369.2 370.8 1359.6 373.4 1351.3C375.9 1343 380.2 1336.2 384.4 1329.3C388.5 1322.4 393.5 1316.4 398.1 1310C402.7 1303.6 407.3 1296.7 411.9 1290.8C416.5 1284.8 420.1 1277.4 425.6 1274.3Z"/><clipPath id="hc2"><use href="#hO2"/></clipPath><path id="hR2" d="M436.6 1279.8C432.1 1284.8 417.4 1300.9 409.1 1310C400.9 1319.2 392.4 1326.5 387.1 1334.8C381.8 1343 379.1 1350.8 377.5 1359.6C375.9 1368.3 376.3 1378.8 377.5 1387.1C378.6 1395.3 380.9 1402.2 384.4 1409.1C387.8 1416 391.7 1423.3 398.1 1428.3C404.5 1433.4 414.2 1437 422.9 1439.3C431.6 1441.6 441.2 1443 450.4 1442.1C459.6 1441.2 469.7 1438 477.9 1433.8C486.2 1429.7 494 1424.2 499.9 1417.3C505.9 1410.5 510.5 1401.3 513.7 1392.6C516.9 1383.9 517.8 1374.2 519.2 1365.1C520.6 1355.9 521.9 1345.3 521.9 1337.5C521.9 1329.7 522.4 1324.7 519.2 1318.3C516 1311.9 505.4 1302.2 502.7 1299"/><path id="hO3" d="M637.5 1281.1C643.5 1280.2 650.8 1281.8 656.8 1282.5C662.7 1283.2 666.8 1285.5 673.3 1285.3C679.7 1285 689.8 1280.2 695.3 1281.1C700.8 1282.1 703.1 1286 706.3 1290.8C709.5 1295.6 711.8 1302.2 714.5 1310C717.3 1317.8 720.5 1328.4 722.8 1337.5C725.1 1346.7 727.8 1356.8 728.3 1365.1C728.7 1373.3 727.8 1378.8 725.5 1387.1C723.2 1395.3 719.1 1406.3 714.5 1414.6C709.9 1422.8 704.9 1430.2 698 1436.6C691.1 1443 682 1448.7 673.3 1453.1C664.5 1457.5 654.5 1461.8 645.7 1462.7C637 1463.6 628.8 1462 621 1458.6C613.2 1455.2 604.9 1449 599 1442.1C593 1435.2 588.9 1426.5 585.2 1417.3C581.6 1408.2 578.3 1396.7 577 1387.1C575.6 1377.4 576.5 1368.7 577 1359.6C577.4 1350.4 578.3 1340.7 579.7 1332C581.1 1323.3 581.6 1313.7 585.2 1307.3C588.9 1300.9 595.8 1296.7 601.7 1293.5C607.7 1290.3 615 1290.1 621 1288C626.9 1286 631.5 1282.1 637.5 1281.1Z"/><clipPath id="hc3"><use href="#hO3"/></clipPath><path id="hR3" d="M637.5 1285.3C632.5 1287.6 614.6 1292.6 607.2 1299C599.9 1305.4 597.1 1315.1 593.5 1323.8C589.8 1332.5 586.8 1342.1 585.2 1351.3C583.6 1360.5 582.9 1369.6 583.8 1378.8C584.8 1388 586.8 1398.1 590.7 1406.3C594.6 1414.6 600.8 1422.4 607.2 1428.3C613.6 1434.3 621 1439.3 629.2 1442.1C637.5 1444.8 647.6 1445.8 656.8 1444.8C665.9 1443.9 676 1441.2 684.3 1436.6C692.5 1432 700.3 1424.7 706.3 1417.3C712.2 1410 717.3 1400.4 720 1392.6C722.8 1384.8 723.7 1378.4 722.8 1370.6C721.9 1362.8 717.7 1354 714.5 1345.8C711.3 1337.5 706.7 1329.3 703.5 1321C700.3 1312.8 696.6 1300.4 695.3 1296.3"/><path id="hO4" d="M815.8 1289.4C821.3 1286.9 832.7 1285.3 840.5 1283.9C848.3 1282.5 856.1 1282.1 862.6 1281.1C869 1280.2 872.6 1277.7 879.1 1278.4C885.5 1279.1 894.6 1283.2 901.1 1285.3C907.5 1287.3 913.5 1287.1 917.6 1290.8C921.7 1294.4 922.9 1301.3 925.8 1307.3C928.8 1313.2 933.2 1319.2 935.5 1326.5C937.8 1333.9 938.7 1342.6 939.6 1351.3C940.5 1360 941.4 1370.1 941 1378.8C940.5 1387.5 939.4 1395.8 936.8 1403.6C934.3 1411.4 930.9 1418.7 925.8 1425.6C920.8 1432.5 914.4 1439.3 906.6 1444.8C898.8 1450.3 888.7 1455.8 879.1 1458.6C869.4 1461.4 858 1461.8 848.8 1461.4C839.6 1460.9 831.4 1459.5 824 1455.8C816.7 1452.2 809.8 1445.8 804.8 1439.3C799.7 1432.9 796.5 1425.6 793.8 1417.3C791 1409.1 789 1399 788.3 1389.8C787.6 1380.6 788.5 1371 789.6 1362.3C790.8 1353.6 793.1 1345.8 795.1 1337.5C797.2 1329.3 800 1319.2 802 1312.8C804.1 1306.4 805.2 1302.9 807.5 1299C809.8 1295.1 810.3 1291.9 815.8 1289.4Z"/><clipPath id="hc4"><use href="#hO4"/></clipPath><path id="hR4" d="M821.3 1296.3C819.9 1300.9 816.2 1315.5 813 1323.8C809.8 1332 805 1338 802 1345.8C799 1353.6 796.1 1362.3 795.1 1370.6C794.2 1378.8 794.9 1387.5 796.5 1395.3C798.1 1403.1 801.1 1410.9 804.8 1417.3C808.4 1423.7 812.6 1429.3 818.5 1433.8C824.5 1438.4 832.3 1443 840.5 1444.8C848.8 1446.7 859.3 1446.2 868.1 1444.8C876.8 1443.5 885 1440.7 892.8 1436.6C900.6 1432.5 908.9 1426.5 914.8 1420.1C920.8 1413.7 925.6 1405.9 928.6 1398.1C931.6 1390.3 932.7 1381.6 932.7 1373.3C932.7 1365.1 930.2 1356.8 928.6 1348.5C927 1340.3 925.4 1331.6 923.1 1323.8C920.8 1316 916.2 1305.4 914.8 1301.8"/><path id="hO5" d="M1030.4 1281.1C1035.9 1279.3 1048.7 1279.8 1055.1 1279.8C1061.6 1279.8 1063.9 1281.6 1068.9 1281.1C1073.9 1280.7 1079.4 1277 1085.4 1277C1091.4 1277 1097.8 1279.5 1104.7 1281.1C1111.5 1282.7 1120.7 1284.1 1126.7 1286.6C1132.6 1289.2 1137.2 1291.5 1140.4 1296.3C1143.6 1301.1 1144.1 1308.2 1145.9 1315.5C1147.8 1322.9 1150.3 1332 1151.4 1340.3C1152.6 1348.5 1153 1356.8 1152.8 1365.1C1152.6 1373.3 1151.9 1382 1150.1 1389.8C1148.2 1397.6 1145.7 1404.9 1141.8 1411.8C1137.9 1418.7 1132.9 1425.1 1126.7 1431.1C1120.5 1437 1112.9 1442.8 1104.7 1447.6C1096.4 1452.4 1086.3 1458.6 1077.2 1460C1068 1461.4 1057.9 1458.4 1049.6 1455.8C1041.4 1453.3 1034.1 1449.9 1027.6 1444.8C1021.2 1439.8 1015.5 1432.9 1011.1 1425.6C1006.8 1418.2 1003.6 1409.5 1001.5 1400.8C999.4 1392.1 998.7 1382 998.7 1373.3C998.7 1364.6 999.9 1356.3 1001.5 1348.5C1003.1 1340.7 1005.8 1333.9 1008.4 1326.5C1010.9 1319.2 1014.3 1310.5 1016.6 1304.5C1018.9 1298.6 1019.8 1294.7 1022.1 1290.8C1024.4 1286.9 1024.9 1283 1030.4 1281.1Z"/><clipPath id="hc5"><use href="#hO5"/></clipPath><path id="hR5" d="M1033.1 1290.8C1032.2 1294.9 1030.8 1307.3 1027.6 1315.5C1024.4 1323.8 1017.5 1332 1013.9 1340.3C1010.2 1348.5 1006.8 1356.8 1005.6 1365.1C1004.5 1373.3 1005.6 1382 1007 1389.8C1008.4 1397.6 1010 1404.9 1013.9 1411.8C1017.8 1418.7 1023.5 1426 1030.4 1431.1C1037.3 1436.1 1046.4 1440.3 1055.1 1442.1C1063.9 1443.9 1073.9 1443.5 1082.7 1442.1C1091.4 1440.7 1100.1 1438 1107.4 1433.8C1114.8 1429.7 1121.4 1423.7 1126.7 1417.3C1132 1410.9 1136.3 1403.1 1139.1 1395.3C1141.8 1387.5 1143 1378.8 1143.2 1370.6C1143.4 1362.3 1141.8 1354 1140.4 1345.8C1139.1 1337.5 1137.2 1329.3 1134.9 1321C1132.6 1312.8 1128.1 1300.4 1126.7 1296.3"/><path id="hO6" d="M1261.5 1271.5C1267.9 1270.1 1273.4 1273.6 1280.8 1274.3C1288.1 1274.9 1297.3 1275.4 1305.5 1275.6C1313.8 1275.9 1325.2 1273.6 1330.3 1275.6C1335.3 1277.7 1333.5 1282.7 1335.8 1288C1338.1 1293.3 1341.3 1299.9 1344 1307.3C1346.8 1314.6 1350 1323.8 1352.3 1332C1354.6 1340.3 1356.9 1349 1357.8 1356.8C1358.7 1364.6 1359.2 1371 1357.8 1378.8C1356.4 1386.6 1353.2 1395.8 1349.5 1403.6C1345.9 1411.4 1341.3 1418.7 1335.8 1425.6C1330.3 1432.5 1323.9 1439.8 1316.5 1444.8C1309.2 1449.9 1300 1453.8 1291.8 1455.8C1283.5 1457.9 1274.8 1458.6 1267 1457.2C1259.2 1455.8 1251.9 1451.9 1245 1447.6C1238.1 1443.2 1231 1437.5 1225.7 1431.1C1220.5 1424.7 1216.6 1417.3 1213.3 1409.1C1210.1 1400.8 1207.8 1390.3 1206.5 1381.6C1205.1 1372.8 1204.9 1365.1 1205.1 1356.8C1205.3 1348.5 1206.7 1339.8 1207.8 1332C1209 1324.2 1209.4 1316.9 1212 1310C1214.5 1303.1 1217.9 1295.4 1223 1290.8C1228 1286.2 1235.8 1285.7 1242.2 1282.5C1248.7 1279.3 1255.1 1272.9 1261.5 1271.5Z"/><clipPath id="hc6"><use href="#hO6"/></clipPath><path id="hR6" d="M1256 1288C1251.9 1290.3 1236.7 1295.4 1231.2 1301.8C1225.7 1308.2 1225.5 1318.3 1223 1326.5C1220.5 1334.8 1217.7 1343 1216.1 1351.3C1214.5 1359.6 1212.7 1367.8 1213.3 1376.1C1214 1384.3 1216.8 1393.5 1220.2 1400.8C1223.7 1408.2 1228.5 1414.6 1234 1420.1C1239.5 1425.6 1245.9 1430.6 1253.2 1433.8C1260.6 1437 1269.7 1439.3 1278 1439.3C1286.3 1439.3 1295 1437 1302.8 1433.8C1310.6 1430.6 1318.4 1426 1324.8 1420.1C1331.2 1414.1 1336.7 1405.9 1341.3 1398.1C1345.9 1390.3 1350.9 1381.1 1352.3 1373.3C1353.7 1365.5 1351.4 1358.6 1349.5 1351.3C1347.7 1344 1344 1337.1 1341.3 1329.3C1338.5 1321.5 1335.8 1311.9 1333 1304.5C1330.3 1297.2 1326.2 1288.5 1324.8 1285.3"/><path id="hO7" d="M1476.1 1273.8C1482.1 1272.8 1490.9 1274.8 1498.3 1274.9C1505.7 1275.1 1514.9 1273.6 1520.4 1274.9C1526 1276.2 1526.9 1279.1 1531.5 1282.7C1536.1 1286.3 1541.4 1292.1 1548.1 1296.5C1554.8 1300.9 1567.3 1302.5 1571.7 1309C1576.1 1315.5 1574.2 1326.3 1574.4 1335.3C1574.7 1344.3 1574.2 1354.2 1573.1 1363C1571.9 1371.8 1569.8 1379.6 1567.5 1387.9C1565.2 1396.2 1563.4 1405.4 1559.2 1412.8C1555.1 1420.2 1549.5 1426.7 1542.6 1432.2C1535.7 1437.7 1526.4 1442.4 1517.7 1446.1C1508.9 1449.7 1498.8 1452.7 1490 1454.4C1481.2 1456 1472.9 1457.1 1465.1 1455.7C1457.2 1454.4 1449.4 1450 1442.9 1446.1C1436.5 1442.1 1430.7 1438.2 1426.3 1432.2C1421.9 1426.2 1419 1417.9 1416.6 1410.1C1414.2 1402.2 1412.5 1393.4 1411.9 1385.1C1411.3 1376.8 1412 1367.6 1413 1360.2C1414 1352.8 1414.9 1347.8 1418 1340.8C1421.1 1333.9 1426.8 1326.1 1431.8 1318.7C1436.9 1311.3 1443.4 1302.8 1448.5 1296.5C1453.5 1290.3 1457.7 1285.1 1462.3 1281.3C1466.9 1277.5 1470.1 1274.9 1476.1 1273.8Z"/><clipPath id="hc7"><use href="#hO7"/></clipPath><path id="hR7" d="M1473.4 1296.5C1469.2 1300.2 1456.3 1311.3 1448.5 1318.7C1440.6 1326.1 1430.9 1333 1426.3 1340.8C1421.7 1348.7 1421.5 1357.5 1420.8 1365.8C1420.1 1374.1 1420.5 1382.4 1422.1 1390.7C1423.8 1399 1426.1 1408.7 1430.5 1415.6C1434.8 1422.5 1441.3 1428.1 1448.5 1432.2C1455.6 1436.4 1465.1 1439.4 1473.4 1440.5C1481.7 1441.7 1490 1441 1498.3 1439.1C1506.6 1437.3 1515.8 1433.8 1523.2 1429.4C1530.6 1425.1 1537.3 1419.8 1542.6 1412.8C1547.9 1405.9 1552.1 1396.2 1555.1 1387.9C1558.1 1379.6 1559.2 1371.3 1560.6 1363C1562 1354.7 1563.1 1345.5 1563.4 1338.1C1563.6 1330.7 1564.5 1324.2 1562 1318.7C1559.4 1313.1 1550.4 1307.1 1548.1 1304.8"/><path id="hO8" d="M1675.5 1272.2C1681 1271 1691.7 1272.5 1700.4 1273C1709.2 1273.5 1721.7 1273.1 1728.1 1274.9C1734.6 1276.8 1734.6 1280.5 1739.2 1284.1C1743.8 1287.7 1749.3 1292.6 1755.8 1296.5C1762.3 1300.5 1773.6 1301.6 1778 1307.6C1782.3 1313.6 1781.6 1323.8 1782.1 1332.5C1782.6 1341.3 1781.9 1351.5 1780.7 1360.2C1779.6 1369 1777.3 1376.8 1775.2 1385.1C1773.1 1393.4 1772 1402.7 1768.3 1410.1C1764.6 1417.4 1759.7 1423.7 1753 1429.4C1746.3 1435.2 1736.9 1440.7 1728.1 1444.7C1719.3 1448.6 1709.7 1451.4 1700.4 1453C1691.2 1454.6 1681 1455.5 1672.7 1454.4C1664.4 1453.2 1657 1450.2 1650.6 1446.1C1644.1 1441.9 1638.4 1435.9 1634 1429.4C1629.6 1423 1626.6 1415.1 1624.3 1407.3C1622 1399.4 1620.6 1390.7 1620.1 1382.4C1619.7 1374.1 1620.4 1365.3 1621.5 1357.5C1622.7 1349.6 1624.1 1342.2 1627.1 1335.3C1630.1 1328.4 1635.1 1322.4 1639.5 1315.9C1643.9 1309.5 1648.7 1302.5 1653.4 1296.5C1658 1290.5 1663.5 1284 1667.2 1279.9C1670.9 1275.9 1670 1273.3 1675.5 1272.2Z"/><clipPath id="hc8"><use href="#hO8"/></clipPath><path id="hR8" d="M1689.4 1282.7C1684.7 1287.3 1670.4 1301.1 1661.7 1310.4C1652.9 1319.6 1642.3 1329.3 1636.7 1338.1C1631.2 1346.8 1629.6 1354.7 1628.4 1363C1627.3 1371.3 1628.4 1379.6 1629.8 1387.9C1631.2 1396.2 1632.8 1405.9 1636.7 1412.8C1640.7 1419.8 1646.4 1425.1 1653.4 1429.4C1660.3 1433.8 1670 1437.7 1678.3 1439.1C1686.6 1440.5 1694.9 1439.4 1703.2 1437.7C1711.5 1436.1 1720.3 1433.6 1728.1 1429.4C1736 1425.3 1744.5 1419.3 1750.3 1412.8C1756 1406.4 1759.7 1398.5 1762.7 1390.7C1765.7 1382.8 1767.1 1374.1 1768.3 1365.8C1769.4 1357.5 1769.9 1348.7 1769.7 1340.8C1769.4 1333 1769.7 1325.1 1766.9 1318.7C1764.1 1312.2 1755.3 1304.8 1753 1302.1"/><path id="hO9" d="M1880.4 1279.9C1885.9 1277.8 1892.9 1278.3 1899.8 1278.5C1906.7 1278.8 1915.5 1279.5 1921.9 1281.3C1928.4 1283.2 1933.9 1288.7 1938.6 1289.6C1943.2 1290.5 1945 1284.8 1949.6 1286.8C1954.2 1288.9 1960.7 1296.8 1966.2 1302.1C1971.8 1307.4 1979.4 1311.8 1982.9 1318.7C1986.3 1325.6 1986.6 1335.3 1987 1343.6C1987.5 1351.9 1986.8 1360.2 1985.6 1368.5C1984.5 1376.8 1982.9 1385.1 1980.1 1393.4C1977.3 1401.8 1973.6 1411 1969 1418.4C1964.4 1425.8 1958.9 1432.2 1952.4 1437.7C1945.9 1443.3 1938.6 1447.9 1930.2 1451.6C1921.9 1455.3 1911.3 1459 1902.6 1459.9C1893.8 1460.8 1885.9 1459.4 1877.6 1457.1C1869.3 1454.8 1859.6 1451.1 1852.7 1446.1C1845.8 1441 1840.5 1434.1 1836.1 1426.7C1831.7 1419.3 1828.3 1410.5 1826.4 1401.8C1824.6 1393 1824.6 1382.8 1825 1374.1C1825.5 1365.3 1826.9 1357 1829.2 1349.1C1831.5 1341.3 1835 1333.9 1838.9 1327C1842.8 1320.1 1848.1 1313.6 1852.7 1307.6C1857.3 1301.6 1861.9 1295.6 1866.6 1291C1871.2 1286.4 1874.9 1282 1880.4 1279.9Z"/><clipPath id="hc9"><use href="#hO9"/></clipPath><path id="hR9" d="M1880.4 1302.1C1875.8 1306.7 1860.1 1321.5 1852.7 1329.8C1845.3 1338.1 1839.6 1344.1 1836.1 1351.9C1832.6 1359.8 1832 1368.5 1832 1376.8C1832 1385.1 1833.6 1393.9 1836.1 1401.8C1838.6 1409.6 1842.1 1417.4 1847.2 1423.9C1852.3 1430.4 1859.2 1436.6 1866.6 1440.5C1873.9 1444.4 1883.2 1446.7 1891.5 1447.4C1899.8 1448.1 1908.1 1447.2 1916.4 1444.7C1924.7 1442.1 1933.9 1438 1941.3 1432.2C1948.7 1426.4 1955.6 1417.9 1960.7 1410.1C1965.8 1402.2 1969.5 1393.4 1971.8 1385.1C1974.1 1376.8 1974.6 1368.5 1974.6 1360.2C1974.6 1351.9 1972.7 1341.8 1971.8 1335.3C1970.9 1328.8 1969.5 1323.8 1969 1321.5"/><linearGradient id="gx1" gradientUnits="userSpaceOnUse" x1="250.3" y1="1284" x2="229" y2="1460.5"><stop offset="0%" stop-color="#919191"/><stop offset="12.4%" stop-color="#969696"/><stop offset="24.9%" stop-color="#9f9f9f"/><stop offset="36.8%" stop-color="#a6a6a6"/><stop offset="49.2%" stop-color="#b0b0b0"/><stop offset="76.8%" stop-color="#c1c1c1"/><stop offset="86.1%" stop-color="#c9c9c9"/><stop offset="100%" stop-color="#d1d1d1"/></linearGradient><radialGradient id="rx1_0"><stop offset="0" stop-color="#6e6e6e" stop-opacity="1"/><stop offset="0.45" stop-color="#6e6e6e" stop-opacity="0.75"/><stop offset="1" stop-color="#6e6e6e" stop-opacity="0"/></radialGradient><radialGradient id="rx1_1"><stop offset="0" stop-color="#dfdfdf" stop-opacity="1"/><stop offset="0.45" stop-color="#dfdfdf" stop-opacity="0.75"/><stop offset="1" stop-color="#dfdfdf" stop-opacity="0"/></radialGradient><linearGradient id="gx2" gradientUnits="userSpaceOnUse" x1="370.6" y1="1357.8" x2="530.2" y2="1357.8"><stop offset="0%" stop-color="#bababa"/><stop offset="24.1%" stop-color="#acacac"/><stop offset="41.4%" stop-color="#a2a2a2"/><stop offset="67.2%" stop-color="#989898"/><stop offset="100%" stop-color="#939393"/></linearGradient><radialGradient id="rx2_0"><stop offset="0" stop-color="#b4b4b4" stop-opacity="1"/><stop offset="0.45" stop-color="#b4b4b4" stop-opacity="0.75"/><stop offset="1" stop-color="#b4b4b4" stop-opacity="0"/></radialGradient><radialGradient id="rx2_1"><stop offset="0" stop-color="#cccccc" stop-opacity="1"/><stop offset="0.45" stop-color="#cccccc" stop-opacity="0.75"/><stop offset="1" stop-color="#cccccc" stop-opacity="0"/></radialGradient><linearGradient id="gx3" gradientUnits="userSpaceOnUse" x1="621.9" y1="1277.7" x2="691.2" y2="1463.9"><stop offset="0%" stop-color="#a1a1a1"/><stop offset="26.9%" stop-color="#9e9e9e"/><stop offset="46.4%" stop-color="#939393"/><stop offset="59.4%" stop-color="#858585"/><stop offset="68.6%" stop-color="#7a7a7a"/><stop offset="82.4%" stop-color="#6b6b6b"/><stop offset="91.4%" stop-color="#626262"/><stop offset="100%" stop-color="#606060"/></linearGradient><radialGradient id="rx3_0"><stop offset="0" stop-color="#bdbdbd" stop-opacity="1"/><stop offset="0.45" stop-color="#bdbdbd" stop-opacity="0.75"/><stop offset="1" stop-color="#bdbdbd" stop-opacity="0"/></radialGradient><linearGradient id="gx4" gradientUnits="userSpaceOnUse" x1="843.2" y1="1289.7" x2="889.1" y2="1448.5"><stop offset="0%" stop-color="#b8b8b8"/><stop offset="21.8%" stop-color="#bebebe"/><stop offset="34.6%" stop-color="#b2b2b2"/><stop offset="45.4%" stop-color="#9f9f9f"/><stop offset="57.1%" stop-color="#8c8c8c"/><stop offset="67.1%" stop-color="#808080"/><stop offset="83%" stop-color="#666666"/><stop offset="100%" stop-color="#5c5c5c"/></linearGradient><linearGradient id="gx5" gradientUnits="userSpaceOnUse" x1="1075" y1="1279.8" x2="1075" y2="1460"><stop offset="0%" stop-color="#adadad"/><stop offset="22.9%" stop-color="#b2b2b2"/><stop offset="32.1%" stop-color="#a8a8a8"/><stop offset="38.9%" stop-color="#9f9f9f"/><stop offset="47.3%" stop-color="#8f8f8f"/><stop offset="55%" stop-color="#808080"/><stop offset="71.8%" stop-color="#666666"/><stop offset="85.5%" stop-color="#545454"/><stop offset="100%" stop-color="#5c5c5c"/></linearGradient><radialGradient id="rx5_0"><stop offset="0" stop-color="#bfbfbf" stop-opacity="1"/><stop offset="0.45" stop-color="#bfbfbf" stop-opacity="0.75"/><stop offset="1" stop-color="#bfbfbf" stop-opacity="0"/></radialGradient><linearGradient id="gx6" gradientUnits="userSpaceOnUse" x1="1257.1" y1="1284.8" x2="1311.4" y2="1445.6"><stop offset="0%" stop-color="#7a7a7a"/><stop offset="19.1%" stop-color="#737373"/><stop offset="30.1%" stop-color="#858585"/><stop offset="41.7%" stop-color="#939393"/><stop offset="52.7%" stop-color="#9f9f9f"/><stop offset="68.2%" stop-color="#a8a8a8"/><stop offset="89.8%" stop-color="#acacac"/><stop offset="100%" stop-color="#a8a8a8"/></linearGradient><radialGradient id="rx6_0"><stop offset="0" stop-color="#b6b6b6" stop-opacity="1"/><stop offset="0.45" stop-color="#b6b6b6" stop-opacity="0.75"/><stop offset="1" stop-color="#b6b6b6" stop-opacity="0"/></radialGradient><radialGradient id="rx6_1"><stop offset="0" stop-color="#b2b2b2" stop-opacity="1"/><stop offset="0.45" stop-color="#b2b2b2" stop-opacity="0.75"/><stop offset="1" stop-color="#b2b2b2" stop-opacity="0"/></radialGradient><linearGradient id="gx7" gradientUnits="userSpaceOnUse" x1="1448.8" y1="1295" x2="1537.1" y2="1428.2"><stop offset="0%" stop-color="#aaaaaa"/><stop offset="25.9%" stop-color="#a3a3a3"/><stop offset="52.1%" stop-color="#9f9f9f"/><stop offset="73.4%" stop-color="#999999"/><stop offset="88.3%" stop-color="#8f8f8f"/><stop offset="100%" stop-color="#8a8a8a"/></linearGradient><radialGradient id="rx7_0"><stop offset="0" stop-color="#b1b1b1" stop-opacity="1"/><stop offset="0.45" stop-color="#b1b1b1" stop-opacity="0.75"/><stop offset="1" stop-color="#b1b1b1" stop-opacity="0"/></radialGradient><radialGradient id="rx7_1"><stop offset="0" stop-color="#aaaaaa" stop-opacity="1"/><stop offset="0.45" stop-color="#aaaaaa" stop-opacity="0.75"/><stop offset="1" stop-color="#aaaaaa" stop-opacity="0"/></radialGradient><linearGradient id="gx8" gradientUnits="userSpaceOnUse" x1="1651.8" y1="1294.9" x2="1759.8" y2="1438.9"><stop offset="0%" stop-color="#adadad"/><stop offset="15.4%" stop-color="#acacac"/><stop offset="47.7%" stop-color="#a2a2a2"/><stop offset="81.5%" stop-color="#949494"/><stop offset="100%" stop-color="#909090"/></linearGradient><radialGradient id="rx8_0"><stop offset="0" stop-color="#afafaf" stop-opacity="1"/><stop offset="0.45" stop-color="#afafaf" stop-opacity="0.75"/><stop offset="1" stop-color="#afafaf" stop-opacity="0"/></radialGradient><linearGradient id="gx9" gradientUnits="userSpaceOnUse" x1="1906.6" y1="1278.5" x2="1906.6" y2="1459.9"><stop offset="0%" stop-color="#787878"/><stop offset="17.6%" stop-color="#808080"/><stop offset="40.5%" stop-color="#8f8f8f"/><stop offset="63.4%" stop-color="#9e9e9e"/><stop offset="86.3%" stop-color="#a3a3a3"/><stop offset="100%" stop-color="#a3a3a3"/></linearGradient><radialGradient id="rx9_0"><stop offset="0" stop-color="#b8b8b8" stop-opacity="1"/><stop offset="0.45" stop-color="#b8b8b8" stop-opacity="0.75"/><stop offset="1" stop-color="#b8b8b8" stop-opacity="0"/></radialGradient><linearGradient id="gy1" gradientUnits="userSpaceOnUse" x1="168" y1="1366.6" x2="319.4" y2="1344.6"><stop offset="0%" stop-color="#707070"/><stop offset="22.7%" stop-color="#808080"/><stop offset="35.3%" stop-color="#8f8f8f"/><stop offset="46.4%" stop-color="#9f9f9f"/><stop offset="58.6%" stop-color="#adadad"/><stop offset="69.8%" stop-color="#b8b8b8"/><stop offset="90.1%" stop-color="#cccccc"/><stop offset="100%" stop-color="#d1d1d1"/></linearGradient><linearGradient id="gy2" gradientUnits="userSpaceOnUse" x1="452.1" y1="1272.1" x2="452.1" y2="1454.5"><stop offset="0%" stop-color="#adadad"/><stop offset="20.8%" stop-color="#a8a8a8"/><stop offset="32.9%" stop-color="#9f9f9f"/><stop offset="51%" stop-color="#969696"/><stop offset="81.1%" stop-color="#949494"/><stop offset="100%" stop-color="#999999"/></linearGradient><linearGradient id="gy3" gradientUnits="userSpaceOnUse" x1="577" y1="1357.9" x2="728.3" y2="1357.9"><stop offset="0%" stop-color="#adadad"/><stop offset="25.5%" stop-color="#a8a8a8"/><stop offset="49.1%" stop-color="#9e9e9e"/><stop offset="70.9%" stop-color="#8a8a8a"/><stop offset="89.1%" stop-color="#808080"/><stop offset="100%" stop-color="#808080"/></linearGradient><linearGradient id="gy4" gradientUnits="userSpaceOnUse" x1="788.6" y1="1365.8" x2="939.5" y2="1354.2"><stop offset="0%" stop-color="#d1d1d1"/><stop offset="16.4%" stop-color="#bfbfbf"/><stop offset="30.9%" stop-color="#b0b0b0"/><stop offset="43.6%" stop-color="#9f9f9f"/><stop offset="61.8%" stop-color="#808080"/><stop offset="85.5%" stop-color="#666666"/><stop offset="100%" stop-color="#525252"/></linearGradient><linearGradient id="gy5" gradientUnits="userSpaceOnUse" x1="998.7" y1="1354.8" x2="1152.8" y2="1354.8"><stop offset="0%" stop-color="#d4d4d4"/><stop offset="22.3%" stop-color="#bababa"/><stop offset="40.2%" stop-color="#9f9f9f"/><stop offset="58%" stop-color="#808080"/><stop offset="79.5%" stop-color="#666666"/><stop offset="100%" stop-color="#4f4f4f"/></linearGradient><linearGradient id="gy6" gradientUnits="userSpaceOnUse" x1="1205.1" y1="1356" x2="1357.8" y2="1356"><stop offset="0%" stop-color="#616161"/><stop offset="17.1%" stop-color="#6b6b6b"/><stop offset="31.5%" stop-color="#808080"/><stop offset="47.7%" stop-color="#9f9f9f"/><stop offset="60.4%" stop-color="#b8b8b8"/><stop offset="85.6%" stop-color="#d9d9d9"/><stop offset="100%" stop-color="#e6e6e6"/></linearGradient><linearGradient id="gy7" gradientUnits="userSpaceOnUse" x1="1491.6" y1="1273" x2="1491.6" y2="1455.7"><stop offset="0%" stop-color="#a8a8a8"/><stop offset="20.5%" stop-color="#9e9e9e"/><stop offset="35.6%" stop-color="#959595"/><stop offset="100%" stop-color="#949494"/></linearGradient><linearGradient id="gy8" gradientUnits="userSpaceOnUse" x1="1698.9" y1="1271.6" x2="1698.9" y2="1454.4"><stop offset="0%" stop-color="#9e9e9e"/><stop offset="28.8%" stop-color="#949494"/><stop offset="66.7%" stop-color="#909090"/><stop offset="100%" stop-color="#8f8f8f"/></linearGradient><radialGradient id="ry8_0"><stop offset="0" stop-color="#a1a1a1" stop-opacity="1"/><stop offset="0.45" stop-color="#a1a1a1" stop-opacity="0.75"/><stop offset="1" stop-color="#a1a1a1" stop-opacity="0"/></radialGradient><linearGradient id="gy9" gradientUnits="userSpaceOnUse" x1="1831.7" y1="1392.3" x2="1984.5" y2="1327.3"><stop offset="0%" stop-color="#787878"/><stop offset="22.3%" stop-color="#878787"/><stop offset="51%" stop-color="#9f9f9f"/><stop offset="70.5%" stop-color="#adadad"/><stop offset="89%" stop-color="#b8b8b8"/><stop offset="100%" stop-color="#bababa"/></linearGradient></defs>
<rect width="2482" height="1806" fill="#fff"/>
<g filter="url(#fA)"><rect x="117" y="104" width="966" height="965.5" fill="#000"/><use href="#brain" transform="translate(283.1 274.5) rotate(0) scale(1.0 1.0)"/><use href="#brainB" transform="translate(604.5 272.3) rotate(0) scale(1.0 1.0)"/><use href="#brain" transform="translate(917.3 276.8) rotate(-6.4) scale(1.0 1.0)"/><use href="#brainC" transform="translate(284.5 584.5) rotate(0) scale(1.0 1.0)"/><use href="#brainB" transform="translate(608.5 585.4) rotate(1) scale(1.0 1.01)"/><use href="#brainC" transform="translate(930 591.8) rotate(14) scale(1.0 1.0)"/><use href="#brain" transform="translate(284 909.7) rotate(8) scale(1.0 1.0)"/><use href="#brainB" transform="translate(610 904.4) rotate(-3) scale(1.0 1.0)"/><use href="#brainB" transform="translate(932.3 906.5) rotate(-3) scale(1.0 1.0)"/></g>
<clipPath id="stripClip"><rect x="134" y="1261.8" width="1873" height="207.2"/><rect x="134" y="1506" width="1873" height="207.2"/></clipPath><g clip-path="url(#stripClip)"><g filter="url(#fC)"><rect x="100" y="1230" width="1940" height="520" fill="#000"/><g transform="translate(0 0)"><g clip-path="url(#hc1)"><use href="#hO1" fill="url(#gx1)"/><circle cx="238.8" cy="1303.1" r="50.9" fill="url(#rx1_0)"/><circle cx="212.4" cy="1444.8" r="44" fill="url(#rx1_1)"/><use href="#hO1" fill="none" stroke="#666666" stroke-width="3" stroke-dasharray="5 6 2 9 7 5" opacity="0.75"/></g><use href="#hR1" fill="none" stroke="#0a0a0a" stroke-width="2.2" stroke-linecap="round"/><use href="#hR1" fill="none" stroke="#545454" stroke-width="3.4" stroke-dasharray="3 14 2 9" opacity="0.7"/><g clip-path="url(#hc2)"><use href="#hO2" fill="url(#gx2)"/><circle cx="488.1" cy="1307.3" r="55" fill="url(#rx2_0)"/><circle cx="385.7" cy="1431.1" r="20.6" fill="url(#rx2_1)"/><use href="#hO2" fill="none" stroke="#666666" stroke-width="3" stroke-dasharray="5 6 2 9 7 5" opacity="0.75"/></g><use href="#hR2" fill="none" stroke="#0a0a0a" stroke-width="2.2" stroke-linecap="round"/><use href="#hR2" fill="none" stroke="#545454" stroke-width="3.4" stroke-dasharray="3 14 2 9" opacity="0.7"/><g clip-path="url(#hc3)"><use href="#hO3" fill="url(#gx3)"/><circle cx="680.1" cy="1310" r="45.4" fill="url(#rx3_0)"/><use href="#hO3" fill="none" stroke="#666666" stroke-width="3" stroke-dasharray="5 6 2 9 7 5" opacity="0.75"/></g><use href="#hR3" fill="none" stroke="#0a0a0a" stroke-width="2.2" stroke-linecap="round"/><use href="#hR3" fill="none" stroke="#545454" stroke-width="3.4" stroke-dasharray="3 14 2 9" opacity="0.7"/><g clip-path="url(#hc4)"><use href="#hO4" fill="url(#gx4)"/><use href="#hO4" fill="none" stroke="#666666" stroke-width="3" stroke-dasharray="5 6 2 9 7 5" opacity="0.75"/></g><use href="#hR4" fill="none" stroke="#0a0a0a" stroke-width="2.2" stroke-linecap="round"/><use href="#hR4" fill="none" stroke="#545454" stroke-width="3.4" stroke-dasharray="3 14 2 9" opacity="0.7"/><g clip-path="url(#hc5)"><use href="#hO5" fill="url(#gx5)"/><circle cx="1090.9" cy="1321" r="26.1" fill="url(#rx5_0)"/><use href="#hO5" fill="none" stroke="#666666" stroke-width="3" stroke-dasharray="5 6 2 9 7 5" opacity="0.75"/></g><use href="#hR5" fill="none" stroke="#0a0a0a" stroke-width="2.2" stroke-linecap="round"/><use href="#hR5" fill="none" stroke="#545454" stroke-width="3.4" stroke-dasharray="3 14 2 9" opacity="0.7"/><g clip-path="url(#hc6)"><use href="#hO6" fill="url(#gx6)"/><circle cx="1247.2" cy="1416" r="26.1" fill="url(#rx6_0)"/><circle cx="1315.1" cy="1406.3" r="23.4" fill="url(#rx6_1)"/><use href="#hO6" fill="none" stroke="#666666" stroke-width="3" stroke-dasharray="5 6 2 9 7 5" opacity="0.75"/></g><use href="#hR6" fill="none" stroke="#0a0a0a" stroke-width="2.2" stroke-linecap="round"/><use href="#hR6" fill="none" stroke="#545454" stroke-width="3.4" stroke-dasharray="3 14 2 9" opacity="0.7"/><g clip-path="url(#hc7)"><use href="#hO7" fill="url(#gx7)"/><circle cx="1420.8" cy="1404.5" r="23.5" fill="url(#rx7_0)"/><circle cx="1445.7" cy="1446.1" r="19.4" fill="url(#rx7_1)"/><use href="#hO7" fill="none" stroke="#666666" stroke-width="3" stroke-dasharray="5 6 2 9 7 5" opacity="0.75"/></g><use href="#hR7" fill="none" stroke="#0a0a0a" stroke-width="2.2" stroke-linecap="round"/><use href="#hR7" fill="none" stroke="#545454" stroke-width="3.4" stroke-dasharray="3 14 2 9" opacity="0.7"/><g clip-path="url(#hc8)"><use href="#hO8" fill="url(#gx8)"/><circle cx="1753" cy="1313.1" r="31.8" fill="url(#rx8_0)"/><use href="#hO8" fill="none" stroke="#666666" stroke-width="3" stroke-dasharray="5 6 2 9 7 5" opacity="0.75"/></g><use href="#hR8" fill="none" stroke="#0a0a0a" stroke-width="2.2" stroke-linecap="round"/><use href="#hR8" fill="none" stroke="#545454" stroke-width="3.4" stroke-dasharray="3 14 2 9" opacity="0.7"/><g clip-path="url(#hc9)"><use href="#hO9" fill="url(#gx9)"/><circle cx="1836.1" cy="1410.1" r="24.9" fill="url(#rx9_0)"/><use href="#hO9" fill="none" stroke="#666666" stroke-width="3" stroke-dasharray="5 6 2 9 7 5" opacity="0.75"/></g><use href="#hR9" fill="none" stroke="#0a0a0a" stroke-width="2.2" stroke-linecap="round"/><use href="#hR9" fill="none" stroke="#545454" stroke-width="3.4" stroke-dasharray="3 14 2 9" opacity="0.7"/></g><g transform="translate(0 244.2)"><g clip-path="url(#hc1)"><use href="#hO1" fill="url(#gy1)"/><use href="#hO1" fill="none" stroke="#666666" stroke-width="3" stroke-dasharray="5 6 2 9 7 5" opacity="0.75"/></g><use href="#hR1" fill="none" stroke="#0a0a0a" stroke-width="2.2" stroke-linecap="round"/><use href="#hR1" fill="none" stroke="#545454" stroke-width="3.4" stroke-dasharray="3 14 2 9" opacity="0.7"/><g clip-path="url(#hc2)"><use href="#hO2" fill="url(#gy2)"/><use href="#hO2" fill="none" stroke="#666666" stroke-width="3" stroke-dasharray="5 6 2 9 7 5" opacity="0.75"/></g><use href="#hR2" fill="none" stroke="#0a0a0a" stroke-width="2.2" stroke-linecap="round"/><use href="#hR2" fill="none" stroke="#545454" stroke-width="3.4" stroke-dasharray="3 14 2 9" opacity="0.7"/><g clip-path="url(#hc3)"><use href="#hO3" fill="url(#gy3)"/><use href="#hO3" fill="none" stroke="#666666" stroke-width="3" stroke-dasharray="5 6 2 9 7 5" opacity="0.75"/></g><use href="#hR3" fill="none" stroke="#0a0a0a" stroke-width="2.2" stroke-linecap="round"/><use href="#hR3" fill="none" stroke="#545454" stroke-width="3.4" stroke-dasharray="3 14 2 9" opacity="0.7"/><g clip-path="url(#hc4)"><use href="#hO4" fill="url(#gy4)"/><use href="#hO4" fill="none" stroke="#666666" stroke-width="3" stroke-dasharray="5 6 2 9 7 5" opacity="0.75"/></g><use href="#hR4" fill="none" stroke="#0a0a0a" stroke-width="2.2" stroke-linecap="round"/><use href="#hR4" fill="none" stroke="#545454" stroke-width="3.4" stroke-dasharray="3 14 2 9" opacity="0.7"/><g clip-path="url(#hc5)"><use href="#hO5" fill="url(#gy5)"/><use href="#hO5" fill="none" stroke="#666666" stroke-width="3" stroke-dasharray="5 6 2 9 7 5" opacity="0.75"/></g><use href="#hR5" fill="none" stroke="#0a0a0a" stroke-width="2.2" stroke-linecap="round"/><use href="#hR5" fill="none" stroke="#545454" stroke-width="3.4" stroke-dasharray="3 14 2 9" opacity="0.7"/><g clip-path="url(#hc6)"><use href="#hO6" fill="url(#gy6)"/><use href="#hO6" fill="none" stroke="#666666" stroke-width="3" stroke-dasharray="5 6 2 9 7 5" opacity="0.75"/></g><use href="#hR6" fill="none" stroke="#0a0a0a" stroke-width="2.2" stroke-linecap="round"/><use href="#hR6" fill="none" stroke="#545454" stroke-width="3.4" stroke-dasharray="3 14 2 9" opacity="0.7"/><g clip-path="url(#hc7)"><use href="#hO7" fill="url(#gy7)"/><use href="#hO7" fill="none" stroke="#666666" stroke-width="3" stroke-dasharray="5 6 2 9 7 5" opacity="0.75"/></g><use href="#hR7" fill="none" stroke="#0a0a0a" stroke-width="2.2" stroke-linecap="round"/><use href="#hR7" fill="none" stroke="#545454" stroke-width="3.4" stroke-dasharray="3 14 2 9" opacity="0.7"/><g clip-path="url(#hc8)"><use href="#hO8" fill="url(#gy8)"/><circle cx="1750.3" cy="1310.4" r="27.7" fill="url(#ry8_0)"/><use href="#hO8" fill="none" stroke="#666666" stroke-width="3" stroke-dasharray="5 6 2 9 7 5" opacity="0.75"/></g><use href="#hR8" fill="none" stroke="#0a0a0a" stroke-width="2.2" stroke-linecap="round"/><use href="#hR8" fill="none" stroke="#545454" stroke-width="3.4" stroke-dasharray="3 14 2 9" opacity="0.7"/><g clip-path="url(#hc9)"><use href="#hO9" fill="url(#gy9)"/><use href="#hO9" fill="none" stroke="#666666" stroke-width="3" stroke-dasharray="5 6 2 9 7 5" opacity="0.75"/></g><use href="#hR9" fill="none" stroke="#0a0a0a" stroke-width="2.2" stroke-linecap="round"/><use href="#hR9" fill="none" stroke="#545454" stroke-width="3.4" stroke-dasharray="3 14 2 9" opacity="0.7"/></g></g></g><rect x="549.8" y="1261.8" width="1" height="207.2" fill="#6c74c4"/><rect x="549.8" y="1506" width="1" height="207.2" fill="#6c74c4"/><rect x="1174.1" y="1261.8" width="1" height="207.2" fill="#6c74c4"/><rect x="1174.1" y="1506" width="1" height="207.2" fill="#6c74c4"/><rect x="1590.9" y="1261.8" width="1" height="207.2" fill="#6c74c4"/><rect x="1590.9" y="1506" width="1" height="207.2" fill="#6c74c4"/>
<text transform="translate(32.6 69.7) scale(1.01 1.005)" font-size="66">(A)</text>
<text transform="translate(1142.2 69.7) scale(1.01 1.005)" font-size="66">(B)</text>
<text transform="translate(32 1235.4) scale(1.01 1.005)" font-size="66">(C)</text>
<g stroke="#000" stroke-width="7.6" stroke-linecap="round" fill="none">
<path d="M1280 163.6V1021.5H2434M1280 1021.5H1263.5M1280 898.9H1263.5M1280 776.4H1263.5M1280 653.8H1263.5M1280 531.3H1263.5M1280 408.7H1263.5M1280 286.2H1263.5M1280 163.6H1263.5M1280 960.2H1271.5M1280 837.7H1271.5M1280 715.1H1271.5M1280 592.5H1271.5M1280 470H1271.5M1280 347.4H1271.5M1280 224.9H1271.5M1386 1021.5V1038M1503.7 1021.5V1038M1621.3 1021.5V1038M1739 1021.5V1038M1856.6 1021.5V1038M1974.2 1021.5V1038M2091.9 1021.5V1038M2209.6 1021.5V1038M2327.2 1021.5V1038" stroke-linejoin="miter"/>
</g>
<text transform="translate(1251.3 1037.1) scale(1.05 1.01)" font-size="46.5" text-anchor="end">0</text>
<text transform="translate(1251.3 914.5) scale(1.05 1.01)" font-size="46.5" text-anchor="end">10</text>
<text transform="translate(1251.3 792) scale(1.05 1.01)" font-size="46.5" text-anchor="end">20</text>
<text transform="translate(1251.3 669.4) scale(1.05 1.01)" font-size="46.5" text-anchor="end">30</text>
<text transform="translate(1251.3 546.9) scale(1.05 1.01)" font-size="46.5" text-anchor="end">40</text>
<text transform="translate(1251.3 424.3) scale(1.05 1.01)" font-size="46.5" text-anchor="end">50</text>
<text transform="translate(1251.3 301.8) scale(1.05 1.01)" font-size="46.5" text-anchor="end">60</text>
<text transform="translate(1251.3 179.2) scale(1.05 1.01)" font-size="46.5" text-anchor="end">70</text>
<text x="1386" y="1088" font-size="46.5" text-anchor="middle" fill="#000" >1</text>
<text x="1503.7" y="1088" font-size="46.5" text-anchor="middle" fill="#000" >2</text>
<text x="1621.3" y="1088" font-size="46.5" text-anchor="middle" fill="#000" >3</text>
<text x="1739" y="1088" font-size="46.5" text-anchor="middle" fill="#000" >4</text>
<text x="1856.6" y="1088" font-size="46.5" text-anchor="middle" fill="#000" >5</text>
<text x="1974.2" y="1088" font-size="46.5" text-anchor="middle" fill="#000" >6</text>
<text x="2091.9" y="1088" font-size="46.5" text-anchor="middle" fill="#000" >7</text>
<text x="2209.6" y="1088" font-size="46.5" text-anchor="middle" fill="#000" >8</text>
<text x="2327.2" y="1088" font-size="46.5" text-anchor="middle" fill="#000" >9</text>
<text x="1861.5" y="1159" font-size="58" text-anchor="middle" fill="#000" >Time course</text>
<text transform="translate(1173.5 584.5) rotate(-90)" font-size="65.5" text-anchor="middle">T<tspan font-size="40" dy="15">2</tspan><tspan dy="-15"> value (ms)</tspan></text>
<path d="M1386 282.2V333.1M1380.8 282.2h10.4M1380.8 333.1h10.4M1503.7 240.6V302.6M1498.5 240.6h10.4M1498.5 302.6h10.4M1621.3 287.7V341M1616.1 287.7h10.4M1616.1 341h10.4M1739 269.1V322.6M1733.8 269.1h10.4M1733.8 322.6h10.4M1856.6 272.6V328.5M1851.4 272.6h10.4M1851.4 328.5h10.4M1974.2 239.7V312.5M1969 239.7h10.4M1969 312.5h10.4M2091.9 260.7V336.9M2086.7 260.7h10.4M2086.7 336.9h10.4M2209.6 230.4V293M2204.4 230.4h10.4M2204.4 293h10.4M2327.2 273.2V323.8M2322 273.2h10.4M2322 323.8h10.4" stroke="#0000FF" stroke-width="3.7" fill="none" stroke-linecap="round"/>
<polyline points="1386,306.9 1503.7,271.1 1621.3,313.9 1739,295.9 1856.6,300.2 1974.2,276.4 2091.9,298.8 2209.6,261 2327.2,298.2" stroke="#0000FF" stroke-width="6.6" fill="none" stroke-linejoin="miter"/>
<path d="M1386 300.4L1392.2 311.1L1379.8 311.1ZM1503.7 264.6L1509.9 275.3L1497.5 275.3ZM1621.3 307.4L1627.5 318.1L1615.1 318.1ZM1739 289.4L1745.2 300.1L1732.8 300.1ZM1856.6 293.7L1862.8 304.4L1850.4 304.4ZM1974.2 269.9L1980.5 280.6L1968 280.6ZM2091.9 292.3L2098.1 303L2085.7 303ZM2209.6 254.5L2215.8 265.2L2203.4 265.2ZM2327.2 291.7L2333.4 302.4L2321 302.4Z" fill="#0000FF"/>
<path d="M1386 381.1V399.8M1380.8 381.1h10.4M1380.8 399.8h10.4M1503.7 394V416.6M1498.5 394h10.4M1498.5 416.6h10.4M1621.3 371.5V385.5M1616.1 371.5h10.4M1616.1 385.5h10.4M1739 392.8V432M1733.8 392.8h10.4M1733.8 432h10.4M1856.6 373V402.1M1851.4 373h10.4M1851.4 402.1h10.4M1974.2 376.8V386.7M1969 376.8h10.4M1969 386.7h10.4M2091.9 368.6V408.8M2086.7 368.6h10.4M2086.7 408.8h10.4M2209.6 348.8V370.1M2204.4 348.8h10.4M2204.4 370.1h10.4M2327.2 381.7V408.5M2322 381.7h10.4M2322 408.5h10.4" stroke="#FF00FF" stroke-width="3.7" fill="none" stroke-linecap="round"/>
<polyline points="1386,391 1503.7,405 1621.3,378.8 1739,412.3 1856.6,387.5 1974.2,381.7 2091.9,388.1 2209.6,360.8 2327.2,395.4" stroke="#FF00FF" stroke-width="6.4" fill="none" stroke-linejoin="miter"/>
<path d="M1386 397.5L1392.2 386.8L1379.8 386.8ZM1503.7 411.5L1509.9 400.8L1497.5 400.8ZM1621.3 385.3L1627.5 374.6L1615.1 374.6ZM1739 418.8L1745.2 408.1L1732.8 408.1ZM1856.6 394L1862.8 383.3L1850.4 383.3ZM1974.2 388.2L1980.5 377.5L1968 377.5ZM2091.9 394.6L2098.1 383.9L2085.7 383.9ZM2209.6 367.3L2215.8 356.6L2203.4 356.6ZM2327.2 401.9L2333.4 391.2L2321 391.2Z" fill="#FF00FF"/>
<path d="M1386 520V550.5M1380.8 520h10.4M1380.8 550.5h10.4M1503.7 453.9V524.3M1498.5 453.9h10.4M1498.5 524.3h10.4M1621.3 514.7V546.5M1616.1 514.7h10.4M1616.1 546.5h10.4M1739 483.6V517M1733.8 483.6h10.4M1733.8 517h10.4M1856.6 525.8V561.6M1851.4 525.8h10.4M1851.4 561.6h10.4M1974.2 475.4V547.6M1969 475.4h10.4M1969 547.6h10.4M2091.9 490.3V515.6M2086.7 490.3h10.4M2086.7 515.6h10.4M2209.6 513.5V558.4M2204.4 513.5h10.4M2204.4 558.4h10.4M2327.2 508.3V584.5M2322 508.3h10.4M2322 584.5h10.4" stroke="#000000" stroke-width="3.7" fill="none" stroke-linecap="round"/>
<polyline points="1386,534.5 1503.7,489.4 1621.3,530.1 1739,500.2 1856.6,542.6 1974.2,510.6 2091.9,502.5 2209.6,535.4 2327.2,546.7" stroke="#000000" stroke-width="6.4" fill="none" stroke-linejoin="miter"/>
<path d="M1381.2 529.7h9.6v9.6h-9.6ZM1498.9 484.6h9.6v9.6h-9.6ZM1616.5 525.3h9.6v9.6h-9.6ZM1734.2 495.4h9.6v9.6h-9.6ZM1851.8 537.8h9.6v9.6h-9.6ZM1969.5 505.8h9.6v9.6h-9.6ZM2087.1 497.7h9.6v9.6h-9.6ZM2204.8 530.6h9.6v9.6h-9.6ZM2322.4 541.9h9.6v9.6h-9.6Z" fill="#000000"/>
<path d="M1386 492.3V523.4M1380.8 492.3h10.4M1380.8 523.4h10.4M1503.7 509.2V538M1498.5 509.2h10.4M1498.5 538h10.4M1621.3 547.6V559.2M1616.1 547.6h10.4M1616.1 559.2h10.4M1739 497.3V544.1M1733.8 497.3h10.4M1733.8 544.1h10.4M1856.6 502.5V525.2M1851.4 502.5h10.4M1851.4 525.2h10.4M1974.2 510.6V556.9M1969 510.6h10.4M1969 556.9h10.4M2091.9 528.1V545.5M2086.7 528.1h10.4M2086.7 545.5h10.4M2209.6 482.1V514.7M2204.4 482.1h10.4M2204.4 514.7h10.4M2327.2 479.8V570M2322 479.8h10.4M2322 570h10.4" stroke="#FF0000" stroke-width="3.7" fill="none" stroke-linecap="round"/>
<polyline points="1386,507.7 1503.7,523.4 1621.3,551.4 1739,520 1856.6,514.7 1974.2,533.9 2091.9,535.4 2209.6,498.1 2327.2,524.3" stroke="#FF0000" stroke-width="6.4" fill="none" stroke-linejoin="miter"/>
<path d="M1380.8 507.7a5.2 5.2 0 1 0 10.4 0a5.2 5.2 0 1 0 -10.4 0ZM1498.5 523.4a5.2 5.2 0 1 0 10.4 0a5.2 5.2 0 1 0 -10.4 0ZM1616.1 551.4a5.2 5.2 0 1 0 10.4 0a5.2 5.2 0 1 0 -10.4 0ZM1733.8 520a5.2 5.2 0 1 0 10.4 0a5.2 5.2 0 1 0 -10.4 0ZM1851.4 514.7a5.2 5.2 0 1 0 10.4 0a5.2 5.2 0 1 0 -10.4 0ZM1969 533.9a5.2 5.2 0 1 0 10.4 0a5.2 5.2 0 1 0 -10.4 0ZM2086.7 535.4a5.2 5.2 0 1 0 10.4 0a5.2 5.2 0 1 0 -10.4 0ZM2204.4 498.1a5.2 5.2 0 1 0 10.4 0a5.2 5.2 0 1 0 -10.4 0ZM2322 524.3a5.2 5.2 0 1 0 10.4 0a5.2 5.2 0 1 0 -10.4 0Z" fill="#FF0000"/>
<path d="M1946 716.2H2044" stroke="#FF00FF" stroke-width="6.8"/>
<text x="2076.2" y="729.8" font-size="41.5" text-anchor="start" fill="#000" >ROI 1</text>
<path d="M1946 775H2044" stroke="#FF0000" stroke-width="6.8"/>
<text x="2076.2" y="788.6" font-size="41.5" text-anchor="start" fill="#000" >ROI 2</text>
<path d="M1946 833.7H2044" stroke="#000" stroke-width="6.8"/>
<text x="2076.2" y="847.3" font-size="41.5" text-anchor="start" fill="#000" >ROI 3</text>
<path d="M1946 892.5H2044" stroke="#0000FF" stroke-width="6.8"/>
<text x="2076.2" y="906.1" font-size="41.5" text-anchor="start" fill="#000" >ROI 4</text>
<g filter="url(#fI)"><rect x="1543.2" y="638" width="325.6" height="325.5" fill="#000"/><use href="#brain" transform="translate(1710.4 808.7) scale(1.02 1.0)"/></g><text x="1720.7" y="758.5" font-size="37" text-anchor="middle" fill="#ff0000">1</text><text x="1665" y="805.4" font-size="37" text-anchor="middle" fill="#ff0000">2</text><text x="1761" y="805.4" font-size="37" text-anchor="middle" fill="#ff0000">3</text><text x="1709.4" y="833.8" font-size="37" text-anchor="middle" fill="#ff0000">4</text><circle cx="1739.2" cy="736.3" r="5" fill="none" stroke="#ff0000" stroke-width="1.5"/><circle cx="1686.4" cy="792.3" r="5" fill="none" stroke="#ff0000" stroke-width="1.5"/><circle cx="1743" cy="791.2" r="5" fill="none" stroke="#ff0000" stroke-width="1.5"/><circle cx="1724.4" cy="802.2" r="5" fill="none" stroke="#ff0000" stroke-width="1.5"/>
<g shape-rendering="crispEdges"><rect x="155" y="1086" width="14.4" height="25.5" fill="rgb(0,0,135)"/><rect x="168.8" y="1086" width="14.4" height="25.5" fill="rgb(0,0,151)"/><rect x="182.6" y="1086" width="14.4" height="25.5" fill="rgb(0,0,167)"/><rect x="196.4" y="1086" width="14.4" height="25.5" fill="rgb(0,0,183)"/><rect x="210.2" y="1086" width="14.4" height="25.5" fill="rgb(0,0,199)"/><rect x="224.1" y="1086" width="14.4" height="25.5" fill="rgb(0,0,215)"/><rect x="237.9" y="1086" width="14.4" height="25.5" fill="rgb(0,0,231)"/><rect x="251.7" y="1086" width="14.4" height="25.5" fill="rgb(0,0,247)"/><rect x="265.5" y="1086" width="14.4" height="25.5" fill="rgb(0,8,255)"/><rect x="279.3" y="1086" width="14.4" height="25.5" fill="rgb(0,24,255)"/><rect x="293.1" y="1086" width="14.4" height="25.5" fill="rgb(0,40,255)"/><rect x="306.9" y="1086" width="14.4" height="25.5" fill="rgb(0,56,255)"/><rect x="320.8" y="1086" width="14.4" height="25.5" fill="rgb(0,72,255)"/><rect x="334.6" y="1086" width="14.4" height="25.5" fill="rgb(0,88,255)"/><rect x="348.4" y="1086" width="14.4" height="25.5" fill="rgb(0,104,255)"/><rect x="362.2" y="1086" width="14.4" height="25.5" fill="rgb(0,120,255)"/><rect x="376" y="1086" width="14.4" height="25.5" fill="rgb(0,135,255)"/><rect x="389.8" y="1086" width="14.4" height="25.5" fill="rgb(0,151,255)"/><rect x="403.6" y="1086" width="14.4" height="25.5" fill="rgb(0,167,255)"/><rect x="417.4" y="1086" width="14.4" height="25.5" fill="rgb(0,183,255)"/><rect x="431.2" y="1086" width="14.4" height="25.5" fill="rgb(0,199,255)"/><rect x="445.1" y="1086" width="14.4" height="25.5" fill="rgb(0,215,255)"/><rect x="458.9" y="1086" width="14.4" height="25.5" fill="rgb(0,231,255)"/><rect x="472.7" y="1086" width="14.4" height="25.5" fill="rgb(0,247,255)"/><rect x="486.5" y="1086" width="14.4" height="25.5" fill="rgb(8,255,247)"/><rect x="500.3" y="1086" width="14.4" height="25.5" fill="rgb(24,255,231)"/><rect x="514.1" y="1086" width="14.4" height="25.5" fill="rgb(40,255,215)"/><rect x="527.9" y="1086" width="14.4" height="25.5" fill="rgb(56,255,199)"/><rect x="541.8" y="1086" width="14.4" height="25.5" fill="rgb(72,255,183)"/><rect x="555.6" y="1086" width="14.4" height="25.5" fill="rgb(88,255,167)"/><rect x="569.4" y="1086" width="14.4" height="25.5" fill="rgb(104,255,151)"/><rect x="583.2" y="1086" width="14.4" height="25.5" fill="rgb(120,255,135)"/><rect x="597" y="1086" width="14.4" height="25.5" fill="rgb(135,255,120)"/><rect x="610.8" y="1086" width="14.4" height="25.5" fill="rgb(151,255,104)"/><rect x="624.6" y="1086" width="14.4" height="25.5" fill="rgb(167,255,88)"/><rect x="638.4" y="1086" width="14.4" height="25.5" fill="rgb(183,255,72)"/><rect x="652.2" y="1086" width="14.4" height="25.5" fill="rgb(199,255,56)"/><rect x="666.1" y="1086" width="14.4" height="25.5" fill="rgb(215,255,40)"/><rect x="679.9" y="1086" width="14.4" height="25.5" fill="rgb(231,255,24)"/><rect x="693.7" y="1086" width="14.4" height="25.5" fill="rgb(247,255,8)"/><rect x="707.5" y="1086" width="14.4" height="25.5" fill="rgb(255,247,0)"/><rect x="721.3" y="1086" width="14.4" height="25.5" fill="rgb(255,231,0)"/><rect x="735.1" y="1086" width="14.4" height="25.5" fill="rgb(255,215,0)"/><rect x="748.9" y="1086" width="14.4" height="25.5" fill="rgb(255,199,0)"/><rect x="762.8" y="1086" width="14.4" height="25.5" fill="rgb(255,183,0)"/><rect x="776.6" y="1086" width="14.4" height="25.5" fill="rgb(255,167,0)"/><rect x="790.4" y="1086" width="14.4" height="25.5" fill="rgb(255,151,0)"/><rect x="804.2" y="1086" width="14.4" height="25.5" fill="rgb(255,135,0)"/><rect x="818" y="1086" width="14.4" height="25.5" fill="rgb(255,120,0)"/><rect x="831.8" y="1086" width="14.4" height="25.5" fill="rgb(255,104,0)"/><rect x="845.6" y="1086" width="14.4" height="25.5" fill="rgb(255,88,0)"/><rect x="859.4" y="1086" width="14.4" height="25.5" fill="rgb(255,72,0)"/><rect x="873.2" y="1086" width="14.4" height="25.5" fill="rgb(255,56,0)"/><rect x="887.1" y="1086" width="14.4" height="25.5" fill="rgb(255,40,0)"/><rect x="900.9" y="1086" width="14.4" height="25.5" fill="rgb(255,24,0)"/><rect x="914.7" y="1086" width="14.4" height="25.5" fill="rgb(255,8,0)"/><rect x="928.5" y="1086" width="14.4" height="25.5" fill="rgb(247,0,0)"/><rect x="942.3" y="1086" width="14.4" height="25.5" fill="rgb(231,0,0)"/><rect x="956.1" y="1086" width="14.4" height="25.5" fill="rgb(215,0,0)"/><rect x="969.9" y="1086" width="14.4" height="25.5" fill="rgb(199,0,0)"/><rect x="983.8" y="1086" width="14.4" height="25.5" fill="rgb(183,0,0)"/><rect x="997.6" y="1086" width="14.4" height="25.5" fill="rgb(167,0,0)"/><rect x="1011.4" y="1086" width="14.4" height="25.5" fill="rgb(151,0,0)"/><rect x="1025.2" y="1086" width="14.4" height="25.5" fill="rgb(135,0,0)"/></g>
<path d="M155.5 1086V1111.5H1039" stroke="#000" stroke-width="1.2" fill="none"/>
<rect x="1038.5" y="1086" width="2" height="25.5" fill="#c98080"/>
<path d="M375 1086V1111" stroke="#000" stroke-width="1.2" stroke-dasharray="7 5" opacity="0.9"/>
<path d="M597.5 1086V1111" stroke="#000" stroke-width="1.2" stroke-dasharray="7 5" opacity="0.9"/>
<path d="M816.5 1086V1111" stroke="#000" stroke-width="1.2" stroke-dasharray="7 5" opacity="0.9"/>
<text transform="translate(153.6 1155.9) scale(1.04 1.13)" font-size="34" text-anchor="middle">0</text>
<text transform="translate(375 1155.9) scale(1.04 1.13)" font-size="34" text-anchor="middle">50</text>
<text transform="translate(597.7 1155.9) scale(1.04 1.13)" font-size="34" text-anchor="middle">100</text>
<text transform="translate(816.5 1155.9) scale(1.04 1.13)" font-size="34" text-anchor="middle">150</text>
<text transform="translate(1035.5 1155.9) scale(1.04 1.13)" font-size="34" text-anchor="middle">200</text>
<text x="1049" y="1112" font-size="42" text-anchor="start" fill="#000" >ms</text>
<g shape-rendering="crispEdges"><rect x="150.5" y="1728" width="9.9" height="25" fill="rgb(0,0,135)"/><rect x="159.8" y="1728" width="9.9" height="25" fill="rgb(0,0,151)"/><rect x="169.1" y="1728" width="9.9" height="25" fill="rgb(0,0,167)"/><rect x="178.4" y="1728" width="9.9" height="25" fill="rgb(0,0,183)"/><rect x="187.8" y="1728" width="9.9" height="25" fill="rgb(0,0,199)"/><rect x="197.1" y="1728" width="9.9" height="25" fill="rgb(0,0,215)"/><rect x="206.4" y="1728" width="9.9" height="25" fill="rgb(0,0,231)"/><rect x="215.7" y="1728" width="9.9" height="25" fill="rgb(0,0,247)"/><rect x="225" y="1728" width="9.9" height="25" fill="rgb(0,8,255)"/><rect x="234.3" y="1728" width="9.9" height="25" fill="rgb(0,24,255)"/><rect x="243.6" y="1728" width="9.9" height="25" fill="rgb(0,40,255)"/><rect x="252.9" y="1728" width="9.9" height="25" fill="rgb(0,56,255)"/><rect x="262.2" y="1728" width="9.9" height="25" fill="rgb(0,72,255)"/><rect x="271.6" y="1728" width="9.9" height="25" fill="rgb(0,88,255)"/><rect x="280.9" y="1728" width="9.9" height="25" fill="rgb(0,104,255)"/><rect x="290.2" y="1728" width="9.9" height="25" fill="rgb(0,120,255)"/><rect x="299.5" y="1728" width="9.9" height="25" fill="rgb(0,135,255)"/><rect x="308.8" y="1728" width="9.9" height="25" fill="rgb(0,151,255)"/><rect x="318.1" y="1728" width="9.9" height="25" fill="rgb(0,167,255)"/><rect x="327.4" y="1728" width="9.9" height="25" fill="rgb(0,183,255)"/><rect x="336.8" y="1728" width="9.9" height="25" fill="rgb(0,199,255)"/><rect x="346.1" y="1728" width="9.9" height="25" fill="rgb(0,215,255)"/><rect x="355.4" y="1728" width="9.9" height="25" fill="rgb(0,231,255)"/><rect x="364.7" y="1728" width="9.9" height="25" fill="rgb(0,247,255)"/><rect x="374" y="1728" width="9.9" height="25" fill="rgb(8,255,247)"/><rect x="383.3" y="1728" width="9.9" height="25" fill="rgb(24,255,231)"/><rect x="392.6" y="1728" width="9.9" height="25" fill="rgb(40,255,215)"/><rect x="401.9" y="1728" width="9.9" height="25" fill="rgb(56,255,199)"/><rect x="411.2" y="1728" width="9.9" height="25" fill="rgb(72,255,183)"/><rect x="420.6" y="1728" width="9.9" height="25" fill="rgb(88,255,167)"/><rect x="429.9" y="1728" width="9.9" height="25" fill="rgb(104,255,151)"/><rect x="439.2" y="1728" width="9.9" height="25" fill="rgb(120,255,135)"/><rect x="448.5" y="1728" width="9.9" height="25" fill="rgb(135,255,120)"/><rect x="457.8" y="1728" width="9.9" height="25" fill="rgb(151,255,104)"/><rect x="467.1" y="1728" width="9.9" height="25" fill="rgb(167,255,88)"/><rect x="476.4" y="1728" width="9.9" height="25" fill="rgb(183,255,72)"/><rect x="485.8" y="1728" width="9.9" height="25" fill="rgb(199,255,56)"/><rect x="495.1" y="1728" width="9.9" height="25" fill="rgb(215,255,40)"/><rect x="504.4" y="1728" width="9.9" height="25" fill="rgb(231,255,24)"/><rect x="513.7" y="1728" width="9.9" height="25" fill="rgb(247,255,8)"/><rect x="523" y="1728" width="9.9" height="25" fill="rgb(255,247,0)"/><rect x="532.3" y="1728" width="9.9" height="25" fill="rgb(255,231,0)"/><rect x="541.6" y="1728" width="9.9" height="25" fill="rgb(255,215,0)"/><rect x="550.9" y="1728" width="9.9" height="25" fill="rgb(255,199,0)"/><rect x="560.2" y="1728" width="9.9" height="25" fill="rgb(255,183,0)"/><rect x="569.6" y="1728" width="9.9" height="25" fill="rgb(255,167,0)"/><rect x="578.9" y="1728" width="9.9" height="25" fill="rgb(255,151,0)"/><rect x="588.2" y="1728" width="9.9" height="25" fill="rgb(255,135,0)"/><rect x="597.5" y="1728" width="9.9" height="25" fill="rgb(255,120,0)"/><rect x="606.8" y="1728" width="9.9" height="25" fill="rgb(255,104,0)"/><rect x="616.1" y="1728" width="9.9" height="25" fill="rgb(255,88,0)"/><rect x="625.4" y="1728" width="9.9" height="25" fill="rgb(255,72,0)"/><rect x="634.8" y="1728" width="9.9" height="25" fill="rgb(255,56,0)"/><rect x="644.1" y="1728" width="9.9" height="25" fill="rgb(255,40,0)"/><rect x="653.4" y="1728" width="9.9" height="25" fill="rgb(255,24,0)"/><rect x="662.7" y="1728" width="9.9" height="25" fill="rgb(255,8,0)"/><rect x="672" y="1728" width="9.9" height="25" fill="rgb(247,0,0)"/><rect x="681.3" y="1728" width="9.9" height="25" fill="rgb(231,0,0)"/><rect x="690.6" y="1728" width="9.9" height="25" fill="rgb(215,0,0)"/><rect x="699.9" y="1728" width="9.9" height="25" fill="rgb(199,0,0)"/><rect x="709.2" y="1728" width="9.9" height="25" fill="rgb(183,0,0)"/><rect x="718.6" y="1728" width="9.9" height="25" fill="rgb(167,0,0)"/><rect x="727.9" y="1728" width="9.9" height="25" fill="rgb(151,0,0)"/><rect x="737.2" y="1728" width="9.9" height="25" fill="rgb(135,0,0)"/></g>
<rect x="150.5" y="1728.5" width="596" height="24.5" fill="none" stroke="#000" stroke-width="1.4"/>
<text x="152.5" y="1790.7" font-size="35.6" text-anchor="middle" fill="#000" >-0.06</text>
<text x="448.5" y="1790.7" font-size="35.6" text-anchor="middle" fill="#000" >m/s</text>
<text x="732.5" y="1790.7" font-size="35.6" text-anchor="middle" fill="#000" >0.06</text>
<text transform="translate(114.5 1371) rotate(-90)" font-size="41.5" text-anchor="middle">Vx field</text>
<text transform="translate(114.5 1611) rotate(-90)" font-size="41.5" text-anchor="middle">Vy field</text>
<text x="2247.5" y="1295.5" font-size="41.5" text-anchor="middle" fill="#000" >Motion field</text>
<g fill="none" stroke="#f00" stroke-width="4.2" stroke-dasharray="15.7 12.3"><path d="M759 1249H973.9" stroke-dashoffset="1.9"/><path d="M973.9 1249V1729" stroke-dashoffset="20.8"/><path d="M761 1246.9V1731.1" stroke-dashoffset="9.8"/><path d="M759 1729H973.9" stroke-dashoffset="0.7"/></g>
<path d="M2111.8 1443.5L2112.5 1426.8M2111.8 1464.6L2111 1448.3M2111.8 1485.8L2109.1 1469.2M2111.8 1528.2L2105.3 1513.4M2111.8 1549.3L2103.6 1535.2M2111.8 1570.5L2102.3 1555.8M2111.8 1612.8L2099.8 1598.3M2133 1380L2134.4 1365.1M2133 1401.1L2134.4 1386.7M2133 1422.3L2134.4 1407.7M2133 1464.6L2131.8 1449.3M2133 1485.8L2129.4 1470.6M2133 1507L2128.1 1492.4M2133 1528.2L2126.5 1515.3M2133 1549.3L2125.5 1537.5M2133 1570.5L2123.9 1558.9M2133 1591.7L2123.1 1580.2M2133 1612.8L2120.5 1601.2M2133 1634L2118.1 1621.6M2133 1655.2L2110.3 1637.8M2154.3 1380L2157.7 1370.3M2154.3 1401.1L2157.3 1390.3M2154.3 1422.3L2156.8 1410.3M2154.3 1443.5L2156 1430.9M2154.3 1464.6L2155 1452M2154.3 1485.8L2152.8 1473.7M2154.3 1507L2149.7 1496M2154.3 1528.2L2148 1518.4M2154.3 1549.3L2146.3 1540.1M2154.3 1570.5L2144.4 1561.1M2154.3 1591.7L2143.5 1582.3M2154.3 1612.8L2141.8 1603.8M2154.3 1634L2139.1 1625M2154.3 1655.2L2138.5 1646.6M2175.5 1380L2179.2 1371.8M2175.5 1401.1L2179.5 1392.2M2175.5 1422.3L2179.3 1413M2175.5 1443.5L2179 1434M2175.5 1464.6L2177.6 1455.5M2175.5 1485.8L2175 1476.8M2175.5 1507L2172.2 1498.9M2175.5 1528.2L2169.8 1520.7M2175.5 1549.3L2167.5 1541.9M2175.5 1570.5L2165.9 1563.3M2175.5 1591.7L2163.6 1584M2175.5 1612.8L2161.4 1605.6M2175.5 1634L2160.1 1626.8M2175.5 1655.2L2159.8 1648.6M2175.5 1676.3L2159.6 1670.5M2196.8 1358.8L2201.6 1351.9M2196.8 1401.1L2200.5 1393.9M2196.8 1422.3L2201.3 1414.5M2196.8 1443.5L2201.3 1435.8M2196.8 1464.6L2199.8 1457M2196.8 1485.8L2196.8 1478.6M2196.8 1507L2193.8 1500.4M2196.8 1528.2L2191.2 1521.6M2196.8 1549.3L2189.7 1543.7M2196.8 1570.5L2187.6 1564.9M2196.8 1591.7L2184.8 1585.7M2196.8 1612.8L2182 1607.1M2196.8 1634L2180.8 1628.3M2196.8 1655.2L2180.4 1650M2196.8 1676.3L2180.6 1673.2M2218 1358.8L2221.3 1353.2M2218 1380L2222.7 1374.3M2218 1401.1L2222.3 1395.3M2218 1422.3L2222.8 1415.9M2218 1443.5L2223 1437.4M2218 1464.6L2221.8 1458.9M2218 1485.8L2219.1 1480.3M2218 1507L2215.6 1501.9M2218 1528.2L2213.4 1523.4M2218 1549.3L2211.5 1545M2218 1570.5L2208.9 1566.4M2218 1591.7L2206.1 1587.4M2218 1612.8L2203.2 1608.2M2218 1634L2202.1 1630.6M2218 1655.2L2202.1 1652.1M2218 1676.3L2199.8 1672.5M2218 1697.5L2202.1 1696.5M2239.2 1358.8L2245 1355.8M2239.2 1380L2244.5 1376.9M2239.2 1401.1L2243.9 1397.1M2239.2 1422.3L2244.8 1418.1M2239.2 1443.5L2244.9 1439.1M2239.2 1464.6L2243.5 1460.3M2239.2 1485.8L2241.2 1481.7M2239.2 1507L2237 1503.8M2239.2 1528.2L2235.2 1525.2M2239.2 1549.3L2233.1 1546.5M2239.2 1570.5L2230.3 1568.4M2239.2 1591.7L2227.3 1589.8M2239.2 1612.8L2224.6 1610.7M2239.2 1634L2223.4 1632.3M2239.2 1655.2L2222.8 1654.2M2239.2 1697.5L2224.7 1697.6M2260.5 1380L2265.4 1377.6M2260.5 1401.1L2265.6 1399.6M2260.5 1422.3L2266.6 1420.4M2260.5 1443.5L2266.5 1441.6M2260.5 1464.6L2265.4 1462.8M2260.5 1485.8L2263.3 1484M2260.5 1507h0.8M2260.5 1528.2L2257 1526.7M2260.5 1549.3L2254.6 1548M2260.5 1570.5L2252 1570.5M2260.5 1591.7L2248.9 1591.9M2260.5 1612.8L2246.3 1613.5M2260.5 1634L2245.3 1635.1M2260.5 1655.2L2244.4 1656.3M2260.5 1676.3L2244.4 1677.7M2260.5 1697.5L2245.9 1699.3M2281.7 1380L2287.2 1380.3M2281.7 1401.1L2287.1 1401.8M2281.7 1422.3L2287.8 1422.9M2281.7 1443.5L2287.8 1444.2M2281.7 1464.6L2286.5 1465.5M2281.7 1485.8L2284.5 1487.1M2281.7 1507L2282.9 1508.1M2281.7 1528.2L2279 1529.8M2281.7 1549.3L2276.6 1550.6M2281.7 1570.5L2274.1 1572.3M2281.7 1591.7L2272.4 1593.5M2281.7 1612.8L2269.9 1615M2281.7 1634L2268.2 1637.3M2281.7 1655.2L2267.1 1658.9M2281.7 1676.3L2266.1 1679.4M2281.7 1697.5L2267.2 1700.4M2303 1358.8L2308.4 1360.4M2303 1380L2308.4 1382.4M2303 1401.1L2308.3 1402.9M2303 1422.3L2308.4 1424.5M2303 1443.5L2308.8 1446M2303 1464.6L2307.9 1467.1M2303 1485.8L2307 1488.8M2303 1507L2304.7 1510.2M2303 1528.2L2302.3 1531.6M2303 1549.3L2299.3 1552.3M2303 1570.5L2296.3 1574M2303 1591.7L2294.7 1595.5M2303 1612.8L2292.3 1617.3M2303 1634L2290.9 1638.8M2303 1655.2L2289.8 1660.2M2303 1676.3L2287.9 1681.9M2303 1697.5L2286 1698M2324.2 1380L2322.6 1376.5M2324.2 1401.1L2327.4 1405.3M2324.2 1422.3L2329.3 1426.2M2324.2 1443.5L2330.5 1447.2M2324.2 1464.6L2330.3 1468.3M2324.2 1485.8L2328.8 1490.2M2324.2 1507L2327.2 1511.5M2324.2 1528.2L2325 1532.6M2324.2 1549.3L2321.5 1553.8M2324.2 1570.5L2319 1575.6M2324.2 1591.7L2316.9 1597.2M2324.2 1612.8L2314.6 1619.1M2324.2 1634L2313.2 1640.6M2324.2 1655.2L2312.6 1661.6M2324.2 1697.5L2313.4 1701.2M2345.4 1380L2350.1 1384.5M2345.4 1401.1L2349.7 1406.2M2345.4 1422.3L2351.1 1428.3M2345.4 1464.6L2351.8 1470.2M2345.4 1485.8L2350.9 1491.6M2345.4 1507L2349.3 1513.1M2345.4 1528.2L2347.3 1534.3M2345.4 1549.3L2344.2 1555.3M2345.4 1570.5L2341 1577.2M2345.4 1591.7L2338.9 1598.9M2345.4 1612.8L2336.6 1620.8M2345.4 1634L2336.3 1642.2M2345.4 1676.3L2335.7 1682.2M2366.7 1443.5L2373.3 1451.5M2366.7 1464.6L2372.3 1472.6M2366.7 1507L2370.6 1515.6M2366.7 1528.2L2368.5 1536.4M2366.7 1549.3L2365.5 1557M2366.7 1570.5L2362.4 1579M2366.7 1591.7L2360.9 1600.8M2366.7 1612.8L2358.4 1623.2M2366.7 1655.2L2356.7 1665.8M2387.9 1464.6L2387 1461.8M2387.9 1485.8L2385.5 1488.5M2387.9 1507L2391.7 1518.5M2387.9 1570.5L2384.5 1581M2387.9 1591.7L2381.1 1602.3M2387.9 1612.8L2379.9 1625.4" stroke="#111" stroke-width="0.9" fill="none"/><path d="M2112.7 1421.6L2114.5 1427.9L2110.4 1427.7ZM2110.8 1443.1L2113.1 1449.2L2109 1449.4ZM2108.2 1464.1L2111.2 1469.9L2107.2 1470.5ZM2103.3 1508.7L2107.6 1513.5L2103.9 1515.2ZM2101 1530.7L2105.9 1535.1L2102.4 1537.1ZM2099.5 1551.5L2104.6 1555.6L2101.2 1557.8ZM2096.5 1594.3L2102 1597.7L2098.9 1600.3ZM2134.8 1359.9L2136.3 1366.2L2132.2 1365.9ZM2134.8 1381.5L2136.3 1387.9L2132.2 1387.5ZM2134.8 1402.5L2136.3 1408.9L2132.2 1408.5ZM2131.4 1444.1L2133.9 1450.1L2129.8 1450.5ZM2128.2 1465.6L2131.7 1471.1L2127.7 1472.1ZM2126.4 1487.5L2130.4 1492.7L2126.5 1494ZM2124.2 1510.6L2128.8 1515.2L2125.2 1517.1ZM2122.7 1533.1L2127.8 1537.3L2124.3 1539.5ZM2120.7 1554.8L2126.2 1558.4L2123 1560.9ZM2119.7 1576.2L2125.3 1579.6L2122.2 1582.3ZM2116.7 1597.7L2122.6 1600.4L2119.9 1603.4ZM2114.2 1618.3L2120.2 1620.7L2117.6 1623.8ZM2106.2 1634.6L2112.4 1636.8L2109.9 1640ZM2159.4 1365.4L2159.3 1372L2155.4 1370.6ZM2158.6 1385.2L2159 1391.8L2155 1390.7ZM2157.9 1405.2L2158.6 1411.7L2154.6 1410.9ZM2156.7 1425.8L2157.9 1432.2L2153.8 1431.7ZM2155.3 1446.8L2157 1453.1L2152.9 1452.9ZM2152.2 1468.6L2155 1474.5L2150.9 1475ZM2147.7 1491.2L2152 1496.2L2148.2 1497.8ZM2145.1 1514.1L2150.2 1518.2L2146.8 1520.4ZM2142.9 1536.1L2148.5 1539.5L2145.4 1542.2ZM2140.6 1557.5L2146.5 1560.3L2143.7 1563.2ZM2139.6 1578.9L2145.6 1581.4L2142.9 1584.5ZM2137.6 1600.7L2143.9 1602.7L2141.4 1606ZM2134.6 1622.3L2141 1623.7L2138.9 1627.2ZM2133.9 1644.1L2140.3 1645.3L2138.4 1648.8ZM2181.2 1367.4L2180.6 1373.5L2177.1 1371.9ZM2181.7 1387.5L2181 1394L2177.3 1392.3ZM2181.2 1408.2L2180.8 1414.7L2177 1413.2ZM2180.8 1429.1L2180.6 1435.6L2176.7 1434.2ZM2178.7 1450.6L2179.3 1456.9L2175.4 1456ZM2174.8 1472L2177 1477.7L2173.2 1477.9ZM2170.4 1494.7L2174.3 1499.2L2170.9 1500.6ZM2166.7 1516.6L2172 1520.2L2168.8 1522.7ZM2163.7 1538.4L2169.6 1541.1L2166.8 1544.1ZM2161.7 1560.2L2167.9 1562.2L2165.5 1565.5ZM2159.2 1581.2L2165.5 1582.8L2163.3 1586.2ZM2156.8 1603.2L2163.2 1604.3L2161.4 1607.9ZM2155.4 1624.6L2161.9 1625.4L2160.2 1629.1ZM2155 1646.6L2161.5 1647.1L2159.9 1650.9ZM2154.7 1668.7L2161.2 1668.9L2159.8 1672.8ZM2204.1 1348.3L2202.5 1353.7L2199.6 1351.7ZM2202.5 1390.2L2201.6 1395.6L2198.5 1394ZM2203.7 1410.3L2202.4 1416.3L2199.1 1414.4ZM2203.7 1431.8L2202.4 1437.7L2199.1 1435.7ZM2201.4 1453.1L2201.1 1458.6L2197.9 1457.3ZM2196.8 1475L2198.3 1479.6L2195.3 1479.6ZM2192.4 1497.2L2195.6 1500.7L2192.9 1501.9ZM2188.2 1518.1L2193.2 1521.2L2190.4 1523.5ZM2186 1540.6L2191.7 1542.8L2189.3 1545.8ZM2183.1 1562.3L2189.5 1563.7L2187.4 1567.2ZM2180.1 1583.4L2186.6 1584.3L2184.8 1588ZM2177.1 1605.2L2183.6 1605.5L2182.2 1609.4ZM2175.9 1626.5L2182.4 1626.7L2181.1 1630.5ZM2175.5 1648.4L2182 1648.4L2180.8 1652.3ZM2175.5 1672.2L2182 1671.3L2181.2 1675.4ZM2222.8 1350.6L2221.9 1354.7L2219.6 1353.4ZM2225 1371.6L2223.3 1376.1L2220.9 1374.1ZM2224.4 1392.4L2222.9 1397L2220.5 1395.2ZM2225.2 1412.7L2223.5 1417.7L2220.8 1415.7ZM2225.5 1434.3L2223.6 1439.2L2221.1 1437.1ZM2223.5 1456.3L2222.4 1460.5L2220.1 1459ZM2219.5 1478L2219.9 1481.5L2217.8 1481.1ZM2214.6 1499.8L2217 1502.3L2215 1503.3ZM2211.3 1521.1L2215.1 1523.1L2213.1 1525ZM2208.3 1542.9L2213.2 1544.2L2211.5 1546.9ZM2204.2 1564.2L2210.7 1564.9L2209 1568.6ZM2201.2 1585.7L2207.7 1585.8L2206.4 1589.7ZM2198.2 1606.7L2204.7 1606.6L2203.5 1610.5ZM2197 1629.5L2203.5 1628.8L2202.6 1632.8ZM2197 1651.1L2203.5 1650.3L2202.7 1654.3ZM2194.8 1671.4L2201.3 1670.7L2200.4 1674.7ZM2196.9 1696.2L2203.2 1694.5L2202.9 1698.6ZM2247.6 1354.5L2244.7 1357.4L2243.5 1355.1ZM2246.7 1375.6L2244.2 1378.5L2243 1376.4ZM2246 1395.3L2244 1398.7L2242.3 1396.8ZM2247.5 1416L2244.9 1419.8L2243.1 1417.5ZM2247.6 1437L2245 1440.9L2243.2 1438.6ZM2245.4 1458.4L2243.7 1461.9L2241.9 1460.1ZM2241.9 1480.3L2241.6 1483L2240 1482.2ZM2236.4 1502.9L2238.1 1504.2L2237 1505ZM2233.7 1524.1L2236.6 1525L2235.5 1526.6ZM2230.2 1545.1L2234.6 1545.6L2233.4 1548.1ZM2225.4 1567.2L2231.7 1566.7L2230.8 1570.5ZM2222.2 1589L2228.6 1587.9L2228 1592ZM2219.5 1610L2225.9 1608.8L2225.3 1612.9ZM2218.3 1631.8L2224.6 1630.4L2224.2 1634.5ZM2217.7 1653.8L2224 1652.2L2223.7 1656.3ZM2219.5 1697.7L2225.6 1695.6L2225.7 1699.7ZM2267.4 1376.7L2264.9 1379L2264 1377.1ZM2267.7 1399L2264.9 1400.9L2264.4 1398.9ZM2269.3 1419.5L2266 1421.9L2265.2 1419.4ZM2269.2 1440.8L2265.9 1443.1L2265.1 1440.7ZM2267.4 1462.1L2264.8 1464.1L2264.1 1462.2ZM2263.9 1483.6L2262.8 1485L2262.2 1484ZM2256.1 1526.4L2258.2 1526.5L2257.7 1527.7ZM2252.1 1547.4L2255.9 1547L2255.3 1549.4ZM2247.6 1570.5L2253 1568.7L2253 1572.3ZM2243.7 1592L2249.9 1589.8L2249.9 1593.9ZM2241.1 1613.7L2247.2 1611.4L2247.4 1615.5ZM2240.1 1635.5L2246.1 1633L2246.4 1637.1ZM2239.2 1656.7L2245.2 1654.2L2245.5 1658.3ZM2239.2 1678.1L2245.2 1675.6L2245.5 1679.7ZM2240.7 1699.9L2246.6 1697.1L2247.1 1701.2ZM2289.4 1380.4L2286.1 1381.3L2286.2 1379.2ZM2289.4 1402L2286 1402.7L2286.3 1400.6ZM2290.6 1423.2L2286.7 1424.1L2287 1421.6ZM2290.6 1444.5L2286.7 1445.3L2287 1442.9ZM2288.3 1465.8L2285.4 1466.3L2285.7 1464.4ZM2285 1487.3L2283.4 1487.1L2283.8 1486.2ZM2282.5 1507.7L2282.1 1507.5L2282.3 1507.3ZM2278.6 1530.1L2279.6 1528.9L2280.2 1529.7ZM2274.5 1551.1L2277.3 1549.4L2277.8 1551.4ZM2270.3 1573.2L2274.7 1570.5L2275.5 1573.6ZM2267.3 1594.5L2273 1591.3L2273.8 1595.3ZM2264.8 1616L2270.5 1612.8L2271.2 1616.9ZM2263.1 1638.5L2268.7 1635.1L2269.6 1639ZM2262.1 1660.1L2267.6 1656.6L2268.6 1660.6ZM2261 1680.4L2266.7 1677.2L2267.5 1681.2ZM2262.1 1701.4L2267.8 1698.2L2268.6 1702.2ZM2310.8 1361L2307.2 1361.2L2307.8 1359ZM2310.8 1383.4L2307 1383.1L2308 1380.9ZM2310.5 1403.7L2307 1403.7L2307.7 1401.6ZM2310.8 1425.5L2307 1425.2L2307.9 1423.1ZM2311.5 1447.1L2307.4 1446.8L2308.4 1444.4ZM2310 1468.1L2306.6 1467.6L2307.5 1465.7ZM2308.5 1489.9L2305.6 1488.9L2306.7 1487.4ZM2305.2 1511L2303.7 1509.6L2304.8 1509ZM2302.2 1532.4L2301.9 1530.5L2303.1 1530.7ZM2298 1553.4L2299.5 1551L2300.7 1552.4ZM2293.1 1575.7L2296.5 1572.2L2297.9 1574.9ZM2290.2 1597.5L2294.8 1593.3L2296.4 1596.8ZM2287.5 1619.3L2292.5 1615L2294 1618.8ZM2286 1640.8L2291 1636.6L2292.5 1640.4ZM2285 1662.1L2290 1657.9L2291.5 1661.8ZM2283 1683.7L2288.1 1679.6L2289.5 1683.5ZM2280.8 1698.1L2286.9 1695.9L2287 1700ZM2322.1 1375.5L2323.6 1377.1L2322.4 1377.7ZM2328.7 1407L2326 1405.2L2327.6 1403.9ZM2331.7 1428L2327.8 1426.7L2329.3 1424.6ZM2333.6 1449L2328.9 1448L2330.4 1445.4ZM2333.2 1470L2328.7 1469L2330.2 1466.5ZM2330.9 1492.1L2327.2 1490.4L2329 1488.5ZM2328.4 1513.3L2325.8 1511.2L2327.5 1510.1ZM2325.2 1534.2L2324 1531.8L2325.6 1531.5ZM2320.5 1555.6L2321.2 1552.5L2322.9 1553.5ZM2316.4 1578.1L2318.6 1573.9L2320.7 1576ZM2313 1600.2L2316.5 1595.1L2318.9 1598.2ZM2310.3 1622L2314.3 1616.9L2316.6 1620.3ZM2308.8 1643.3L2313 1638.4L2315.1 1641.9ZM2308 1664.2L2312.4 1659.4L2314.4 1663ZM2308.5 1702.9L2313.7 1699L2315 1702.8ZM2352.2 1386.6L2348.4 1384.7L2350.3 1382.9ZM2351.7 1408.5L2348.1 1406.3L2350.1 1404.5ZM2354 1431.3L2349.1 1428.7L2351.6 1426.3ZM2355.2 1473L2349.9 1470.9L2352.3 1468.2ZM2353.7 1494.5L2349 1492L2351.4 1489.7ZM2351.1 1516L2347.5 1513L2350 1511.4ZM2348.1 1537.2L2345.8 1533.8L2348.3 1533ZM2343.6 1557.9L2343.2 1554L2345.6 1554.5ZM2338.7 1580.7L2340.1 1575.5L2342.9 1577.3ZM2335.4 1602.8L2338 1596.8L2341.1 1599.5ZM2332.7 1624.2L2336 1618.6L2338.7 1621.6ZM2332.4 1645.7L2335.6 1640L2338.4 1643.1ZM2331.2 1684.9L2335.5 1680L2337.6 1683.5ZM2376.6 1455.5L2371.1 1452L2374.2 1449.4ZM2375.4 1476.8L2370.1 1472.9L2373.4 1470.6ZM2372.7 1520.2L2368.3 1515.5L2372 1513.8ZM2369.4 1540.6L2366.5 1535.8L2370 1535ZM2364.9 1560.9L2364 1555.8L2367.2 1556.3ZM2360.1 1583.7L2361 1577.2L2364.7 1579.1ZM2358.1 1605.2L2359.7 1598.8L2363.2 1601ZM2355.1 1627.2L2357.4 1621.1L2360.6 1623.7ZM2353.2 1669.6L2355.9 1663.6L2358.9 1666.4ZM2386.9 1461.4L2387.8 1462.6L2386.9 1462.9ZM2384.9 1489.1L2385.7 1487.3L2386.6 1488.1ZM2393.3 1523.5L2389.4 1518.2L2393.3 1517ZM2382.8 1585.9L2382.8 1579.4L2386.7 1580.7ZM2378.3 1606.7L2379.9 1600.3L2383.4 1602.5ZM2377.1 1629.8L2378.7 1623.5L2382.2 1625.7Z" fill="#111" stroke="none"/>
</svg>
</body></html>
